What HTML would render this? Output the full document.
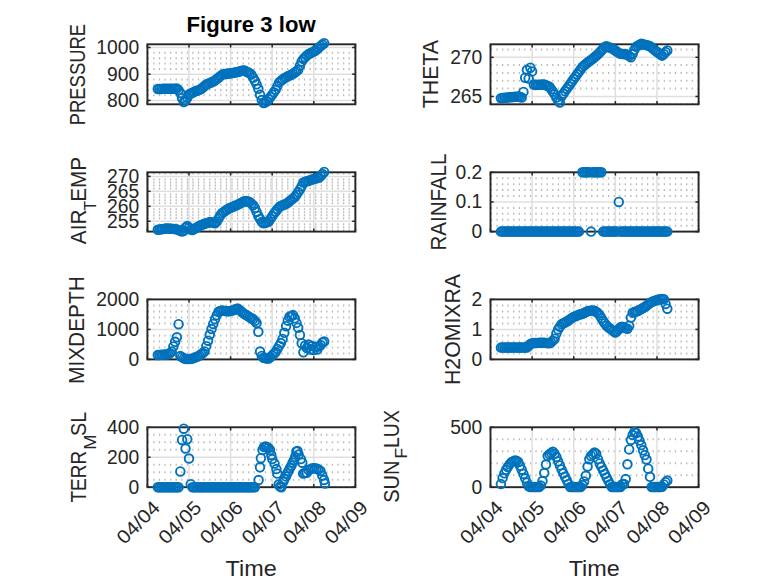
<!DOCTYPE html>
<html><head><meta charset="utf-8"><style>
html,body{margin:0;padding:0;background:#fff;overflow:hidden}
svg{display:block;font-family:"Liberation Sans",sans-serif}
</style></head><body>
<svg width="778" height="583" viewBox="0 0 778 583">
<rect width="778" height="583" fill="#fff"/>
<path d="M148.3 94.2v2M153.9 94.2v2M159.5 94.2v2M165.0 94.2v2M170.6 94.2v2M176.2 94.2v2M181.8 94.2v2M187.4 94.2v2M192.9 94.2v2M198.5 94.2v2M204.1 94.2v2M209.7 94.2v2M215.3 94.2v2M220.8 94.2v2M226.4 94.2v2M232.0 94.2v2M237.6 94.2v2M243.2 94.2v2M248.7 94.2v2M254.3 94.2v2M259.9 94.2v2M265.5 94.2v2M271.1 94.2v2M276.6 94.2v2M282.2 94.2v2M287.8 94.2v2M293.4 94.2v2M299.0 94.2v2M304.5 94.2v2M310.1 94.2v2M315.7 94.2v2M321.3 94.2v2M326.9 94.2v2M332.4 94.2v2M338.0 94.2v2M343.6 94.2v2M349.2 94.2v2M354.8 94.2v2M148.3 88.9v2M153.9 88.9v2M159.5 88.9v2M165.0 88.9v2M170.6 88.9v2M176.2 88.9v2M181.8 88.9v2M187.4 88.9v2M192.9 88.9v2M198.5 88.9v2M204.1 88.9v2M209.7 88.9v2M215.3 88.9v2M220.8 88.9v2M226.4 88.9v2M232.0 88.9v2M237.6 88.9v2M243.2 88.9v2M248.7 88.9v2M254.3 88.9v2M259.9 88.9v2M265.5 88.9v2M271.1 88.9v2M276.6 88.9v2M282.2 88.9v2M287.8 88.9v2M293.4 88.9v2M299.0 88.9v2M304.5 88.9v2M310.1 88.9v2M315.7 88.9v2M321.3 88.9v2M326.9 88.9v2M332.4 88.9v2M338.0 88.9v2M343.6 88.9v2M349.2 88.9v2M354.8 88.9v2M148.3 83.7v2M153.9 83.7v2M159.5 83.7v2M165.0 83.7v2M170.6 83.7v2M176.2 83.7v2M181.8 83.7v2M187.4 83.7v2M192.9 83.7v2M198.5 83.7v2M204.1 83.7v2M209.7 83.7v2M215.3 83.7v2M220.8 83.7v2M226.4 83.7v2M232.0 83.7v2M237.6 83.7v2M243.2 83.7v2M248.7 83.7v2M254.3 83.7v2M259.9 83.7v2M265.5 83.7v2M271.1 83.7v2M276.6 83.7v2M282.2 83.7v2M287.8 83.7v2M293.4 83.7v2M299.0 83.7v2M304.5 83.7v2M310.1 83.7v2M315.7 83.7v2M321.3 83.7v2M326.9 83.7v2M332.4 83.7v2M338.0 83.7v2M343.6 83.7v2M349.2 83.7v2M354.8 83.7v2M148.3 78.4v2M153.9 78.4v2M159.5 78.4v2M165.0 78.4v2M170.6 78.4v2M176.2 78.4v2M181.8 78.4v2M187.4 78.4v2M192.9 78.4v2M198.5 78.4v2M204.1 78.4v2M209.7 78.4v2M215.3 78.4v2M220.8 78.4v2M226.4 78.4v2M232.0 78.4v2M237.6 78.4v2M243.2 78.4v2M248.7 78.4v2M254.3 78.4v2M259.9 78.4v2M265.5 78.4v2M271.1 78.4v2M276.6 78.4v2M282.2 78.4v2M287.8 78.4v2M293.4 78.4v2M299.0 78.4v2M304.5 78.4v2M310.1 78.4v2M315.7 78.4v2M321.3 78.4v2M326.9 78.4v2M332.4 78.4v2M338.0 78.4v2M343.6 78.4v2M349.2 78.4v2M354.8 78.4v2M148.3 67.9v2M153.9 67.9v2M159.5 67.9v2M165.0 67.9v2M170.6 67.9v2M176.2 67.9v2M181.8 67.9v2M187.4 67.9v2M192.9 67.9v2M198.5 67.9v2M204.1 67.9v2M209.7 67.9v2M215.3 67.9v2M220.8 67.9v2M226.4 67.9v2M232.0 67.9v2M237.6 67.9v2M243.2 67.9v2M248.7 67.9v2M254.3 67.9v2M259.9 67.9v2M265.5 67.9v2M271.1 67.9v2M276.6 67.9v2M282.2 67.9v2M287.8 67.9v2M293.4 67.9v2M299.0 67.9v2M304.5 67.9v2M310.1 67.9v2M315.7 67.9v2M321.3 67.9v2M326.9 67.9v2M332.4 67.9v2M338.0 67.9v2M343.6 67.9v2M349.2 67.9v2M354.8 67.9v2M148.3 62.5v2M153.9 62.5v2M159.5 62.5v2M165.0 62.5v2M170.6 62.5v2M176.2 62.5v2M181.8 62.5v2M187.4 62.5v2M192.9 62.5v2M198.5 62.5v2M204.1 62.5v2M209.7 62.5v2M215.3 62.5v2M220.8 62.5v2M226.4 62.5v2M232.0 62.5v2M237.6 62.5v2M243.2 62.5v2M248.7 62.5v2M254.3 62.5v2M259.9 62.5v2M265.5 62.5v2M271.1 62.5v2M276.6 62.5v2M282.2 62.5v2M287.8 62.5v2M293.4 62.5v2M299.0 62.5v2M304.5 62.5v2M310.1 62.5v2M315.7 62.5v2M321.3 62.5v2M326.9 62.5v2M332.4 62.5v2M338.0 62.5v2M343.6 62.5v2M349.2 62.5v2M354.8 62.5v2M148.3 57.2v2M153.9 57.2v2M159.5 57.2v2M165.0 57.2v2M170.6 57.2v2M176.2 57.2v2M181.8 57.2v2M187.4 57.2v2M192.9 57.2v2M198.5 57.2v2M204.1 57.2v2M209.7 57.2v2M215.3 57.2v2M220.8 57.2v2M226.4 57.2v2M232.0 57.2v2M237.6 57.2v2M243.2 57.2v2M248.7 57.2v2M254.3 57.2v2M259.9 57.2v2M265.5 57.2v2M271.1 57.2v2M276.6 57.2v2M282.2 57.2v2M287.8 57.2v2M293.4 57.2v2M299.0 57.2v2M304.5 57.2v2M310.1 57.2v2M315.7 57.2v2M321.3 57.2v2M326.9 57.2v2M332.4 57.2v2M338.0 57.2v2M343.6 57.2v2M349.2 57.2v2M354.8 57.2v2M148.3 51.8v2M153.9 51.8v2M159.5 51.8v2M165.0 51.8v2M170.6 51.8v2M176.2 51.8v2M181.8 51.8v2M187.4 51.8v2M192.9 51.8v2M198.5 51.8v2M204.1 51.8v2M209.7 51.8v2M215.3 51.8v2M220.8 51.8v2M226.4 51.8v2M232.0 51.8v2M237.6 51.8v2M243.2 51.8v2M248.7 51.8v2M254.3 51.8v2M259.9 51.8v2M265.5 51.8v2M271.1 51.8v2M276.6 51.8v2M282.2 51.8v2M287.8 51.8v2M293.4 51.8v2M299.0 51.8v2M304.5 51.8v2M310.1 51.8v2M315.7 51.8v2M321.3 51.8v2M326.9 51.8v2M332.4 51.8v2M338.0 51.8v2M343.6 51.8v2M349.2 51.8v2M354.8 51.8v2" stroke="#bababa" stroke-width="1.3" fill="none"/>
<line x1="147.40" y1="100.40" x2="355.40" y2="100.40" stroke="#dfdfdf" stroke-width="1.5"/>
<line x1="147.40" y1="74.20" x2="355.40" y2="74.20" stroke="#dfdfdf" stroke-width="1.5"/>
<line x1="147.40" y1="47.50" x2="355.40" y2="47.50" stroke="#dfdfdf" stroke-width="1.5"/>
<line x1="189.00" y1="44.30" x2="189.00" y2="104.30" stroke="#dfdfdf" stroke-width="1.5"/>
<line x1="230.60" y1="44.30" x2="230.60" y2="104.30" stroke="#dfdfdf" stroke-width="1.5"/>
<line x1="272.20" y1="44.30" x2="272.20" y2="104.30" stroke="#dfdfdf" stroke-width="1.5"/>
<line x1="313.80" y1="44.30" x2="313.80" y2="104.30" stroke="#dfdfdf" stroke-width="1.5"/>
<line x1="147.40" y1="100.40" x2="150.60" y2="100.40" stroke="#262626" stroke-width="1.5"/>
<line x1="355.40" y1="100.40" x2="352.20" y2="100.40" stroke="#262626" stroke-width="1.5"/>
<line x1="147.40" y1="74.20" x2="150.60" y2="74.20" stroke="#262626" stroke-width="1.5"/>
<line x1="355.40" y1="74.20" x2="352.20" y2="74.20" stroke="#262626" stroke-width="1.5"/>
<line x1="147.40" y1="47.50" x2="150.60" y2="47.50" stroke="#262626" stroke-width="1.5"/>
<line x1="355.40" y1="47.50" x2="352.20" y2="47.50" stroke="#262626" stroke-width="1.5"/>
<line x1="147.40" y1="104.30" x2="147.40" y2="101.10" stroke="#262626" stroke-width="1.5"/>
<line x1="147.40" y1="44.30" x2="147.40" y2="47.50" stroke="#262626" stroke-width="1.5"/>
<line x1="189.00" y1="104.30" x2="189.00" y2="101.10" stroke="#262626" stroke-width="1.5"/>
<line x1="189.00" y1="44.30" x2="189.00" y2="47.50" stroke="#262626" stroke-width="1.5"/>
<line x1="230.60" y1="104.30" x2="230.60" y2="101.10" stroke="#262626" stroke-width="1.5"/>
<line x1="230.60" y1="44.30" x2="230.60" y2="47.50" stroke="#262626" stroke-width="1.5"/>
<line x1="272.20" y1="104.30" x2="272.20" y2="101.10" stroke="#262626" stroke-width="1.5"/>
<line x1="272.20" y1="44.30" x2="272.20" y2="47.50" stroke="#262626" stroke-width="1.5"/>
<line x1="313.80" y1="104.30" x2="313.80" y2="101.10" stroke="#262626" stroke-width="1.5"/>
<line x1="313.80" y1="44.30" x2="313.80" y2="47.50" stroke="#262626" stroke-width="1.5"/>
<line x1="355.40" y1="104.30" x2="355.40" y2="101.10" stroke="#262626" stroke-width="1.5"/>
<line x1="355.40" y1="44.30" x2="355.40" y2="47.50" stroke="#262626" stroke-width="1.5"/>
<rect x="147.40" y="44.30" width="208.00" height="60.00" fill="none" stroke="#262626" stroke-width="1.9"/>
<text x="139.20" y="106.80" text-anchor="end" font-size="19.3" fill="#262626">800</text>
<text x="139.20" y="80.60" text-anchor="end" font-size="19.3" fill="#262626">900</text>
<text x="139.20" y="53.90" text-anchor="end" font-size="19.3" fill="#262626">1000</text>
<text transform="translate(85.20,125.20) rotate(-90)" font-size="21.3" fill="#262626" textLength="101.20" lengthAdjust="spacingAndGlyphs">PRESSURE</text>
<g fill="none" stroke="#0072BD" stroke-width="1.9"><circle cx="157.80" cy="89.00" r="4.3"/><circle cx="159.53" cy="88.96" r="4.3"/><circle cx="161.27" cy="88.92" r="4.3"/><circle cx="163.00" cy="88.87" r="4.3"/><circle cx="164.73" cy="88.83" r="4.3"/><circle cx="166.47" cy="88.79" r="4.3"/><circle cx="168.20" cy="88.76" r="4.3"/><circle cx="169.93" cy="88.73" r="4.3"/><circle cx="171.67" cy="88.70" r="4.3"/><circle cx="173.40" cy="88.67" r="4.3"/><circle cx="175.13" cy="88.64" r="4.3"/><circle cx="176.87" cy="88.61" r="4.3"/><circle cx="178.60" cy="90.10" r="4.3"/><circle cx="180.33" cy="93.00" r="4.3"/><circle cx="182.07" cy="98.15" r="4.3"/><circle cx="183.80" cy="101.98" r="4.3"/><circle cx="185.53" cy="100.49" r="4.3"/><circle cx="187.27" cy="97.68" r="4.3"/><circle cx="189.00" cy="94.50" r="4.3"/><circle cx="190.73" cy="93.62" r="4.3"/><circle cx="192.47" cy="92.74" r="4.3"/><circle cx="194.20" cy="91.86" r="4.3"/><circle cx="195.93" cy="90.99" r="4.3"/><circle cx="197.67" cy="90.45" r="4.3"/><circle cx="199.40" cy="89.91" r="4.3"/><circle cx="201.13" cy="89.11" r="4.3"/><circle cx="202.87" cy="87.53" r="4.3"/><circle cx="204.60" cy="85.95" r="4.3"/><circle cx="206.33" cy="84.44" r="4.3"/><circle cx="208.07" cy="83.69" r="4.3"/><circle cx="209.80" cy="82.94" r="4.3"/><circle cx="211.53" cy="82.20" r="4.3"/><circle cx="213.27" cy="81.45" r="4.3"/><circle cx="215.00" cy="80.44" r="4.3"/><circle cx="216.73" cy="79.05" r="4.3"/><circle cx="218.47" cy="77.67" r="4.3"/><circle cx="220.20" cy="76.28" r="4.3"/><circle cx="221.93" cy="74.89" r="4.3"/><circle cx="223.67" cy="74.11" r="4.3"/><circle cx="225.40" cy="73.94" r="4.3"/><circle cx="227.13" cy="73.77" r="4.3"/><circle cx="228.87" cy="73.60" r="4.3"/><circle cx="230.60" cy="73.36" r="4.3"/><circle cx="232.33" cy="73.01" r="4.3"/><circle cx="234.07" cy="72.67" r="4.3"/><circle cx="235.80" cy="72.32" r="4.3"/><circle cx="237.53" cy="71.94" r="4.3"/><circle cx="239.27" cy="71.50" r="4.3"/><circle cx="241.00" cy="71.06" r="4.3"/><circle cx="242.73" cy="70.62" r="4.3"/><circle cx="244.47" cy="70.54" r="4.3"/><circle cx="246.20" cy="71.43" r="4.3"/><circle cx="247.93" cy="72.32" r="4.3"/><circle cx="249.67" cy="73.21" r="4.3"/><circle cx="251.40" cy="74.61" r="4.3"/><circle cx="253.13" cy="77.68" r="4.3"/><circle cx="254.87" cy="80.75" r="4.3"/><circle cx="256.60" cy="84.35" r="4.3"/><circle cx="258.33" cy="88.81" r="4.3"/><circle cx="260.07" cy="94.80" r="4.3"/><circle cx="261.80" cy="100.00" r="4.3"/><circle cx="263.53" cy="102.96" r="4.3"/><circle cx="265.27" cy="102.40" r="4.3"/><circle cx="267.00" cy="101.36" r="4.3"/><circle cx="268.73" cy="99.14" r="4.3"/><circle cx="270.47" cy="96.93" r="4.3"/><circle cx="272.20" cy="94.60" r="4.3"/><circle cx="273.93" cy="92.26" r="4.3"/><circle cx="275.67" cy="89.86" r="4.3"/><circle cx="277.40" cy="86.11" r="4.3"/><circle cx="279.13" cy="82.36" r="4.3"/><circle cx="280.87" cy="80.84" r="4.3"/><circle cx="282.60" cy="79.57" r="4.3"/><circle cx="284.33" cy="78.29" r="4.3"/><circle cx="286.07" cy="77.19" r="4.3"/><circle cx="287.80" cy="76.37" r="4.3"/><circle cx="289.53" cy="75.55" r="4.3"/><circle cx="291.27" cy="74.73" r="4.3"/><circle cx="293.00" cy="73.76" r="4.3"/><circle cx="294.73" cy="72.48" r="4.3"/><circle cx="296.47" cy="71.20" r="4.3"/><circle cx="298.20" cy="69.76" r="4.3"/><circle cx="299.93" cy="65.63" r="4.3"/><circle cx="301.67" cy="61.51" r="4.3"/><circle cx="303.40" cy="58.92" r="4.3"/><circle cx="305.13" cy="57.22" r="4.3"/><circle cx="306.87" cy="55.51" r="4.3"/><circle cx="308.60" cy="54.10" r="4.3"/><circle cx="310.33" cy="53.25" r="4.3"/><circle cx="312.07" cy="52.40" r="4.3"/><circle cx="313.80" cy="51.54" r="4.3"/><circle cx="315.53" cy="50.51" r="4.3"/><circle cx="317.27" cy="48.97" r="4.3"/><circle cx="319.00" cy="47.42" r="4.3"/><circle cx="320.73" cy="45.87" r="4.3"/><circle cx="322.47" cy="44.53" r="4.3"/><circle cx="324.20" cy="43.18" r="4.3"/></g>
<path d="M491.4 103.3v2M497.0 103.3v2M502.6 103.3v2M508.1 103.3v2M513.7 103.3v2M519.3 103.3v2M524.9 103.3v2M530.5 103.3v2M536.0 103.3v2M541.6 103.3v2M547.2 103.3v2M552.8 103.3v2M558.4 103.3v2M563.9 103.3v2M569.5 103.3v2M575.1 103.3v2M580.7 103.3v2M586.3 103.3v2M591.8 103.3v2M597.4 103.3v2M603.0 103.3v2M608.6 103.3v2M614.2 103.3v2M619.7 103.3v2M625.3 103.3v2M630.9 103.3v2M636.5 103.3v2M642.1 103.3v2M647.6 103.3v2M653.2 103.3v2M658.8 103.3v2M664.4 103.3v2M670.0 103.3v2M675.5 103.3v2M681.1 103.3v2M686.7 103.3v2M692.3 103.3v2M697.9 103.3v2M491.4 87.6v2M497.0 87.6v2M502.6 87.6v2M508.1 87.6v2M513.7 87.6v2M519.3 87.6v2M524.9 87.6v2M530.5 87.6v2M536.0 87.6v2M541.6 87.6v2M547.2 87.6v2M552.8 87.6v2M558.4 87.6v2M563.9 87.6v2M569.5 87.6v2M575.1 87.6v2M580.7 87.6v2M586.3 87.6v2M591.8 87.6v2M597.4 87.6v2M603.0 87.6v2M608.6 87.6v2M614.2 87.6v2M619.7 87.6v2M625.3 87.6v2M630.9 87.6v2M636.5 87.6v2M642.1 87.6v2M647.6 87.6v2M653.2 87.6v2M658.8 87.6v2M664.4 87.6v2M670.0 87.6v2M675.5 87.6v2M681.1 87.6v2M686.7 87.6v2M692.3 87.6v2M697.9 87.6v2M491.4 79.8v2M497.0 79.8v2M502.6 79.8v2M508.1 79.8v2M513.7 79.8v2M519.3 79.8v2M524.9 79.8v2M530.5 79.8v2M536.0 79.8v2M541.6 79.8v2M547.2 79.8v2M552.8 79.8v2M558.4 79.8v2M563.9 79.8v2M569.5 79.8v2M575.1 79.8v2M580.7 79.8v2M586.3 79.8v2M591.8 79.8v2M597.4 79.8v2M603.0 79.8v2M608.6 79.8v2M614.2 79.8v2M619.7 79.8v2M625.3 79.8v2M630.9 79.8v2M636.5 79.8v2M642.1 79.8v2M647.6 79.8v2M653.2 79.8v2M658.8 79.8v2M664.4 79.8v2M670.0 79.8v2M675.5 79.8v2M681.1 79.8v2M686.7 79.8v2M692.3 79.8v2M697.9 79.8v2M491.4 72.0v2M497.0 72.0v2M502.6 72.0v2M508.1 72.0v2M513.7 72.0v2M519.3 72.0v2M524.9 72.0v2M530.5 72.0v2M536.0 72.0v2M541.6 72.0v2M547.2 72.0v2M552.8 72.0v2M558.4 72.0v2M563.9 72.0v2M569.5 72.0v2M575.1 72.0v2M580.7 72.0v2M586.3 72.0v2M591.8 72.0v2M597.4 72.0v2M603.0 72.0v2M608.6 72.0v2M614.2 72.0v2M619.7 72.0v2M625.3 72.0v2M630.9 72.0v2M636.5 72.0v2M642.1 72.0v2M647.6 72.0v2M653.2 72.0v2M658.8 72.0v2M664.4 72.0v2M670.0 72.0v2M675.5 72.0v2M681.1 72.0v2M686.7 72.0v2M692.3 72.0v2M697.9 72.0v2M491.4 64.1v2M497.0 64.1v2M502.6 64.1v2M508.1 64.1v2M513.7 64.1v2M519.3 64.1v2M524.9 64.1v2M530.5 64.1v2M536.0 64.1v2M541.6 64.1v2M547.2 64.1v2M552.8 64.1v2M558.4 64.1v2M563.9 64.1v2M569.5 64.1v2M575.1 64.1v2M580.7 64.1v2M586.3 64.1v2M591.8 64.1v2M597.4 64.1v2M603.0 64.1v2M608.6 64.1v2M614.2 64.1v2M619.7 64.1v2M625.3 64.1v2M630.9 64.1v2M636.5 64.1v2M642.1 64.1v2M647.6 64.1v2M653.2 64.1v2M658.8 64.1v2M664.4 64.1v2M670.0 64.1v2M675.5 64.1v2M681.1 64.1v2M686.7 64.1v2M692.3 64.1v2M697.9 64.1v2M491.4 48.5v2M497.0 48.5v2M502.6 48.5v2M508.1 48.5v2M513.7 48.5v2M519.3 48.5v2M524.9 48.5v2M530.5 48.5v2M536.0 48.5v2M541.6 48.5v2M547.2 48.5v2M552.8 48.5v2M558.4 48.5v2M563.9 48.5v2M569.5 48.5v2M575.1 48.5v2M580.7 48.5v2M586.3 48.5v2M591.8 48.5v2M597.4 48.5v2M603.0 48.5v2M608.6 48.5v2M614.2 48.5v2M619.7 48.5v2M625.3 48.5v2M630.9 48.5v2M636.5 48.5v2M642.1 48.5v2M647.6 48.5v2M653.2 48.5v2M658.8 48.5v2M664.4 48.5v2M670.0 48.5v2M675.5 48.5v2M681.1 48.5v2M686.7 48.5v2M692.3 48.5v2M697.9 48.5v2" stroke="#bababa" stroke-width="1.3" fill="none"/>
<line x1="490.50" y1="96.47" x2="698.60" y2="96.47" stroke="#dfdfdf" stroke-width="1.5"/>
<line x1="490.50" y1="57.30" x2="698.60" y2="57.30" stroke="#dfdfdf" stroke-width="1.5"/>
<line x1="532.12" y1="44.30" x2="532.12" y2="104.30" stroke="#dfdfdf" stroke-width="1.5"/>
<line x1="573.74" y1="44.30" x2="573.74" y2="104.30" stroke="#dfdfdf" stroke-width="1.5"/>
<line x1="615.36" y1="44.30" x2="615.36" y2="104.30" stroke="#dfdfdf" stroke-width="1.5"/>
<line x1="656.98" y1="44.30" x2="656.98" y2="104.30" stroke="#dfdfdf" stroke-width="1.5"/>
<line x1="490.50" y1="96.47" x2="493.70" y2="96.47" stroke="#262626" stroke-width="1.5"/>
<line x1="698.60" y1="96.47" x2="695.40" y2="96.47" stroke="#262626" stroke-width="1.5"/>
<line x1="490.50" y1="57.30" x2="493.70" y2="57.30" stroke="#262626" stroke-width="1.5"/>
<line x1="698.60" y1="57.30" x2="695.40" y2="57.30" stroke="#262626" stroke-width="1.5"/>
<line x1="490.50" y1="104.30" x2="490.50" y2="101.10" stroke="#262626" stroke-width="1.5"/>
<line x1="490.50" y1="44.30" x2="490.50" y2="47.50" stroke="#262626" stroke-width="1.5"/>
<line x1="532.12" y1="104.30" x2="532.12" y2="101.10" stroke="#262626" stroke-width="1.5"/>
<line x1="532.12" y1="44.30" x2="532.12" y2="47.50" stroke="#262626" stroke-width="1.5"/>
<line x1="573.74" y1="104.30" x2="573.74" y2="101.10" stroke="#262626" stroke-width="1.5"/>
<line x1="573.74" y1="44.30" x2="573.74" y2="47.50" stroke="#262626" stroke-width="1.5"/>
<line x1="615.36" y1="104.30" x2="615.36" y2="101.10" stroke="#262626" stroke-width="1.5"/>
<line x1="615.36" y1="44.30" x2="615.36" y2="47.50" stroke="#262626" stroke-width="1.5"/>
<line x1="656.98" y1="104.30" x2="656.98" y2="101.10" stroke="#262626" stroke-width="1.5"/>
<line x1="656.98" y1="44.30" x2="656.98" y2="47.50" stroke="#262626" stroke-width="1.5"/>
<line x1="698.60" y1="104.30" x2="698.60" y2="101.10" stroke="#262626" stroke-width="1.5"/>
<line x1="698.60" y1="44.30" x2="698.60" y2="47.50" stroke="#262626" stroke-width="1.5"/>
<rect x="490.50" y="44.30" width="208.10" height="60.00" fill="none" stroke="#262626" stroke-width="1.9"/>
<text x="482.30" y="102.87" text-anchor="end" font-size="19.3" fill="#262626">265</text>
<text x="482.30" y="63.70" text-anchor="end" font-size="19.3" fill="#262626">270</text>
<text transform="translate(438.00,108.20) rotate(-90)" font-size="21.3" fill="#262626" textLength="68.20" lengthAdjust="spacingAndGlyphs">THETA</text>
<g fill="none" stroke="#0072BD" stroke-width="1.9"><circle cx="500.90" cy="98.20" r="4.3"/><circle cx="502.63" cy="98.02" r="4.3"/><circle cx="504.37" cy="97.83" r="4.3"/><circle cx="506.10" cy="97.64" r="4.3"/><circle cx="507.83" cy="97.45" r="4.3"/><circle cx="509.57" cy="97.27" r="4.3"/><circle cx="511.30" cy="97.13" r="4.3"/><circle cx="513.03" cy="96.99" r="4.3"/><circle cx="514.77" cy="96.85" r="4.3"/><circle cx="516.50" cy="96.71" r="4.3"/><circle cx="518.23" cy="96.57" r="4.3"/><circle cx="519.97" cy="96.80" r="4.3"/><circle cx="521.70" cy="97.50" r="4.3"/><circle cx="523.43" cy="91.90" r="4.3"/><circle cx="525.17" cy="77.70" r="4.3"/><circle cx="526.90" cy="70.00" r="4.3"/><circle cx="528.63" cy="78.60" r="4.3"/><circle cx="530.37" cy="67.70" r="4.3"/><circle cx="532.10" cy="71.40" r="4.3"/><circle cx="533.83" cy="84.50" r="4.3"/><circle cx="535.57" cy="84.93" r="4.3"/><circle cx="537.30" cy="84.84" r="4.3"/><circle cx="539.03" cy="84.75" r="4.3"/><circle cx="540.77" cy="84.67" r="4.3"/><circle cx="542.50" cy="84.58" r="4.3"/><circle cx="544.23" cy="84.56" r="4.3"/><circle cx="545.97" cy="85.30" r="4.3"/><circle cx="547.70" cy="86.03" r="4.3"/><circle cx="549.43" cy="86.77" r="4.3"/><circle cx="551.17" cy="89.17" r="4.3"/><circle cx="552.90" cy="91.64" r="4.3"/><circle cx="554.63" cy="94.33" r="4.3"/><circle cx="556.37" cy="97.42" r="4.3"/><circle cx="558.10" cy="100.51" r="4.3"/><circle cx="559.83" cy="102.44" r="4.3"/><circle cx="561.57" cy="96.20" r="4.3"/><circle cx="563.30" cy="93.75" r="4.3"/><circle cx="565.03" cy="91.29" r="4.3"/><circle cx="566.77" cy="88.84" r="4.3"/><circle cx="568.50" cy="86.39" r="4.3"/><circle cx="570.23" cy="83.93" r="4.3"/><circle cx="571.97" cy="81.49" r="4.3"/><circle cx="573.70" cy="79.08" r="4.3"/><circle cx="575.43" cy="76.68" r="4.3"/><circle cx="577.17" cy="74.27" r="4.3"/><circle cx="578.90" cy="71.86" r="4.3"/><circle cx="580.63" cy="69.45" r="4.3"/><circle cx="582.37" cy="67.05" r="4.3"/><circle cx="584.10" cy="65.50" r="4.3"/><circle cx="585.83" cy="63.97" r="4.3"/><circle cx="587.57" cy="62.45" r="4.3"/><circle cx="589.30" cy="61.24" r="4.3"/><circle cx="591.03" cy="60.02" r="4.3"/><circle cx="592.77" cy="58.80" r="4.3"/><circle cx="594.50" cy="57.32" r="4.3"/><circle cx="596.23" cy="55.74" r="4.3"/><circle cx="597.97" cy="54.17" r="4.3"/><circle cx="599.70" cy="52.43" r="4.3"/><circle cx="601.43" cy="50.57" r="4.3"/><circle cx="603.17" cy="48.71" r="4.3"/><circle cx="604.90" cy="46.86" r="4.3"/><circle cx="606.63" cy="46.35" r="4.3"/><circle cx="608.37" cy="47.01" r="4.3"/><circle cx="610.10" cy="47.67" r="4.3"/><circle cx="611.83" cy="48.33" r="4.3"/><circle cx="613.57" cy="49.24" r="4.3"/><circle cx="615.30" cy="50.46" r="4.3"/><circle cx="617.03" cy="51.68" r="4.3"/><circle cx="618.77" cy="52.90" r="4.3"/><circle cx="620.50" cy="53.76" r="4.3"/><circle cx="622.23" cy="53.93" r="4.3"/><circle cx="623.97" cy="54.10" r="4.3"/><circle cx="625.70" cy="54.27" r="4.3"/><circle cx="627.43" cy="54.72" r="4.3"/><circle cx="629.17" cy="56.00" r="4.3"/><circle cx="630.90" cy="57.28" r="4.3"/><circle cx="632.63" cy="54.02" r="4.3"/><circle cx="634.37" cy="49.81" r="4.3"/><circle cx="636.10" cy="46.87" r="4.3"/><circle cx="637.83" cy="45.81" r="4.3"/><circle cx="639.57" cy="44.74" r="4.3"/><circle cx="641.30" cy="43.85" r="4.3"/><circle cx="643.03" cy="44.28" r="4.3"/><circle cx="644.77" cy="44.71" r="4.3"/><circle cx="646.50" cy="45.13" r="4.3"/><circle cx="648.23" cy="45.56" r="4.3"/><circle cx="649.97" cy="46.20" r="4.3"/><circle cx="651.70" cy="47.61" r="4.3"/><circle cx="653.43" cy="49.02" r="4.3"/><circle cx="655.17" cy="50.43" r="4.3"/><circle cx="656.90" cy="51.82" r="4.3"/><circle cx="658.63" cy="53.10" r="4.3"/><circle cx="660.37" cy="54.38" r="4.3"/><circle cx="662.10" cy="55.65" r="4.3"/><circle cx="663.83" cy="54.01" r="4.3"/><circle cx="665.57" cy="51.99" r="4.3"/><circle cx="667.30" cy="50.42" r="4.3"/></g>
<path d="M148.3 229.3v2M153.9 229.3v2M159.5 229.3v2M165.0 229.3v2M170.6 229.3v2M176.2 229.3v2M181.8 229.3v2M187.4 229.3v2M192.9 229.3v2M198.5 229.3v2M204.1 229.3v2M209.7 229.3v2M215.3 229.3v2M220.8 229.3v2M226.4 229.3v2M232.0 229.3v2M237.6 229.3v2M243.2 229.3v2M248.7 229.3v2M254.3 229.3v2M259.9 229.3v2M265.5 229.3v2M271.1 229.3v2M276.6 229.3v2M282.2 229.3v2M287.8 229.3v2M293.4 229.3v2M299.0 229.3v2M304.5 229.3v2M310.1 229.3v2M315.7 229.3v2M321.3 229.3v2M326.9 229.3v2M332.4 229.3v2M338.0 229.3v2M343.6 229.3v2M349.2 229.3v2M354.8 229.3v2M148.3 226.3v2M153.9 226.3v2M159.5 226.3v2M165.0 226.3v2M170.6 226.3v2M176.2 226.3v2M181.8 226.3v2M187.4 226.3v2M192.9 226.3v2M198.5 226.3v2M204.1 226.3v2M209.7 226.3v2M215.3 226.3v2M220.8 226.3v2M226.4 226.3v2M232.0 226.3v2M237.6 226.3v2M243.2 226.3v2M248.7 226.3v2M254.3 226.3v2M259.9 226.3v2M265.5 226.3v2M271.1 226.3v2M276.6 226.3v2M282.2 226.3v2M287.8 226.3v2M293.4 226.3v2M299.0 226.3v2M304.5 226.3v2M310.1 226.3v2M315.7 226.3v2M321.3 226.3v2M326.9 226.3v2M332.4 226.3v2M338.0 226.3v2M343.6 226.3v2M349.2 226.3v2M354.8 226.3v2M148.3 223.3v2M153.9 223.3v2M159.5 223.3v2M165.0 223.3v2M170.6 223.3v2M176.2 223.3v2M181.8 223.3v2M187.4 223.3v2M192.9 223.3v2M198.5 223.3v2M204.1 223.3v2M209.7 223.3v2M215.3 223.3v2M220.8 223.3v2M226.4 223.3v2M232.0 223.3v2M237.6 223.3v2M243.2 223.3v2M248.7 223.3v2M254.3 223.3v2M259.9 223.3v2M265.5 223.3v2M271.1 223.3v2M276.6 223.3v2M282.2 223.3v2M287.8 223.3v2M293.4 223.3v2M299.0 223.3v2M304.5 223.3v2M310.1 223.3v2M315.7 223.3v2M321.3 223.3v2M326.9 223.3v2M332.4 223.3v2M338.0 223.3v2M343.6 223.3v2M349.2 223.3v2M354.8 223.3v2M148.3 217.3v2M153.9 217.3v2M159.5 217.3v2M165.0 217.3v2M170.6 217.3v2M176.2 217.3v2M181.8 217.3v2M187.4 217.3v2M192.9 217.3v2M198.5 217.3v2M204.1 217.3v2M209.7 217.3v2M215.3 217.3v2M220.8 217.3v2M226.4 217.3v2M232.0 217.3v2M237.6 217.3v2M243.2 217.3v2M248.7 217.3v2M254.3 217.3v2M259.9 217.3v2M265.5 217.3v2M271.1 217.3v2M276.6 217.3v2M282.2 217.3v2M287.8 217.3v2M293.4 217.3v2M299.0 217.3v2M304.5 217.3v2M310.1 217.3v2M315.7 217.3v2M321.3 217.3v2M326.9 217.3v2M332.4 217.3v2M338.0 217.3v2M343.6 217.3v2M349.2 217.3v2M354.8 217.3v2M148.3 214.3v2M153.9 214.3v2M159.5 214.3v2M165.0 214.3v2M170.6 214.3v2M176.2 214.3v2M181.8 214.3v2M187.4 214.3v2M192.9 214.3v2M198.5 214.3v2M204.1 214.3v2M209.7 214.3v2M215.3 214.3v2M220.8 214.3v2M226.4 214.3v2M232.0 214.3v2M237.6 214.3v2M243.2 214.3v2M248.7 214.3v2M254.3 214.3v2M259.9 214.3v2M265.5 214.3v2M271.1 214.3v2M276.6 214.3v2M282.2 214.3v2M287.8 214.3v2M293.4 214.3v2M299.0 214.3v2M304.5 214.3v2M310.1 214.3v2M315.7 214.3v2M321.3 214.3v2M326.9 214.3v2M332.4 214.3v2M338.0 214.3v2M343.6 214.3v2M349.2 214.3v2M354.8 214.3v2M148.3 211.3v2M153.9 211.3v2M159.5 211.3v2M165.0 211.3v2M170.6 211.3v2M176.2 211.3v2M181.8 211.3v2M187.4 211.3v2M192.9 211.3v2M198.5 211.3v2M204.1 211.3v2M209.7 211.3v2M215.3 211.3v2M220.8 211.3v2M226.4 211.3v2M232.0 211.3v2M237.6 211.3v2M243.2 211.3v2M248.7 211.3v2M254.3 211.3v2M259.9 211.3v2M265.5 211.3v2M271.1 211.3v2M276.6 211.3v2M282.2 211.3v2M287.8 211.3v2M293.4 211.3v2M299.0 211.3v2M304.5 211.3v2M310.1 211.3v2M315.7 211.3v2M321.3 211.3v2M326.9 211.3v2M332.4 211.3v2M338.0 211.3v2M343.6 211.3v2M349.2 211.3v2M354.8 211.3v2M148.3 208.3v2M153.9 208.3v2M159.5 208.3v2M165.0 208.3v2M170.6 208.3v2M176.2 208.3v2M181.8 208.3v2M187.4 208.3v2M192.9 208.3v2M198.5 208.3v2M204.1 208.3v2M209.7 208.3v2M215.3 208.3v2M220.8 208.3v2M226.4 208.3v2M232.0 208.3v2M237.6 208.3v2M243.2 208.3v2M248.7 208.3v2M254.3 208.3v2M259.9 208.3v2M265.5 208.3v2M271.1 208.3v2M276.6 208.3v2M282.2 208.3v2M287.8 208.3v2M293.4 208.3v2M299.0 208.3v2M304.5 208.3v2M310.1 208.3v2M315.7 208.3v2M321.3 208.3v2M326.9 208.3v2M332.4 208.3v2M338.0 208.3v2M343.6 208.3v2M349.2 208.3v2M354.8 208.3v2M148.3 202.3v2M153.9 202.3v2M159.5 202.3v2M165.0 202.3v2M170.6 202.3v2M176.2 202.3v2M181.8 202.3v2M187.4 202.3v2M192.9 202.3v2M198.5 202.3v2M204.1 202.3v2M209.7 202.3v2M215.3 202.3v2M220.8 202.3v2M226.4 202.3v2M232.0 202.3v2M237.6 202.3v2M243.2 202.3v2M248.7 202.3v2M254.3 202.3v2M259.9 202.3v2M265.5 202.3v2M271.1 202.3v2M276.6 202.3v2M282.2 202.3v2M287.8 202.3v2M293.4 202.3v2M299.0 202.3v2M304.5 202.3v2M310.1 202.3v2M315.7 202.3v2M321.3 202.3v2M326.9 202.3v2M332.4 202.3v2M338.0 202.3v2M343.6 202.3v2M349.2 202.3v2M354.8 202.3v2M148.3 199.3v2M153.9 199.3v2M159.5 199.3v2M165.0 199.3v2M170.6 199.3v2M176.2 199.3v2M181.8 199.3v2M187.4 199.3v2M192.9 199.3v2M198.5 199.3v2M204.1 199.3v2M209.7 199.3v2M215.3 199.3v2M220.8 199.3v2M226.4 199.3v2M232.0 199.3v2M237.6 199.3v2M243.2 199.3v2M248.7 199.3v2M254.3 199.3v2M259.9 199.3v2M265.5 199.3v2M271.1 199.3v2M276.6 199.3v2M282.2 199.3v2M287.8 199.3v2M293.4 199.3v2M299.0 199.3v2M304.5 199.3v2M310.1 199.3v2M315.7 199.3v2M321.3 199.3v2M326.9 199.3v2M332.4 199.3v2M338.0 199.3v2M343.6 199.3v2M349.2 199.3v2M354.8 199.3v2M148.3 196.3v2M153.9 196.3v2M159.5 196.3v2M165.0 196.3v2M170.6 196.3v2M176.2 196.3v2M181.8 196.3v2M187.4 196.3v2M192.9 196.3v2M198.5 196.3v2M204.1 196.3v2M209.7 196.3v2M215.3 196.3v2M220.8 196.3v2M226.4 196.3v2M232.0 196.3v2M237.6 196.3v2M243.2 196.3v2M248.7 196.3v2M254.3 196.3v2M259.9 196.3v2M265.5 196.3v2M271.1 196.3v2M276.6 196.3v2M282.2 196.3v2M287.8 196.3v2M293.4 196.3v2M299.0 196.3v2M304.5 196.3v2M310.1 196.3v2M315.7 196.3v2M321.3 196.3v2M326.9 196.3v2M332.4 196.3v2M338.0 196.3v2M343.6 196.3v2M349.2 196.3v2M354.8 196.3v2M148.3 193.4v2M153.9 193.4v2M159.5 193.4v2M165.0 193.4v2M170.6 193.4v2M176.2 193.4v2M181.8 193.4v2M187.4 193.4v2M192.9 193.4v2M198.5 193.4v2M204.1 193.4v2M209.7 193.4v2M215.3 193.4v2M220.8 193.4v2M226.4 193.4v2M232.0 193.4v2M237.6 193.4v2M243.2 193.4v2M248.7 193.4v2M254.3 193.4v2M259.9 193.4v2M265.5 193.4v2M271.1 193.4v2M276.6 193.4v2M282.2 193.4v2M287.8 193.4v2M293.4 193.4v2M299.0 193.4v2M304.5 193.4v2M310.1 193.4v2M315.7 193.4v2M321.3 193.4v2M326.9 193.4v2M332.4 193.4v2M338.0 193.4v2M343.6 193.4v2M349.2 193.4v2M354.8 193.4v2M148.3 187.4v2M153.9 187.4v2M159.5 187.4v2M165.0 187.4v2M170.6 187.4v2M176.2 187.4v2M181.8 187.4v2M187.4 187.4v2M192.9 187.4v2M198.5 187.4v2M204.1 187.4v2M209.7 187.4v2M215.3 187.4v2M220.8 187.4v2M226.4 187.4v2M232.0 187.4v2M237.6 187.4v2M243.2 187.4v2M248.7 187.4v2M254.3 187.4v2M259.9 187.4v2M265.5 187.4v2M271.1 187.4v2M276.6 187.4v2M282.2 187.4v2M287.8 187.4v2M293.4 187.4v2M299.0 187.4v2M304.5 187.4v2M310.1 187.4v2M315.7 187.4v2M321.3 187.4v2M326.9 187.4v2M332.4 187.4v2M338.0 187.4v2M343.6 187.4v2M349.2 187.4v2M354.8 187.4v2M148.3 184.4v2M153.9 184.4v2M159.5 184.4v2M165.0 184.4v2M170.6 184.4v2M176.2 184.4v2M181.8 184.4v2M187.4 184.4v2M192.9 184.4v2M198.5 184.4v2M204.1 184.4v2M209.7 184.4v2M215.3 184.4v2M220.8 184.4v2M226.4 184.4v2M232.0 184.4v2M237.6 184.4v2M243.2 184.4v2M248.7 184.4v2M254.3 184.4v2M259.9 184.4v2M265.5 184.4v2M271.1 184.4v2M276.6 184.4v2M282.2 184.4v2M287.8 184.4v2M293.4 184.4v2M299.0 184.4v2M304.5 184.4v2M310.1 184.4v2M315.7 184.4v2M321.3 184.4v2M326.9 184.4v2M332.4 184.4v2M338.0 184.4v2M343.6 184.4v2M349.2 184.4v2M354.8 184.4v2M148.3 181.4v2M153.9 181.4v2M159.5 181.4v2M165.0 181.4v2M170.6 181.4v2M176.2 181.4v2M181.8 181.4v2M187.4 181.4v2M192.9 181.4v2M198.5 181.4v2M204.1 181.4v2M209.7 181.4v2M215.3 181.4v2M220.8 181.4v2M226.4 181.4v2M232.0 181.4v2M237.6 181.4v2M243.2 181.4v2M248.7 181.4v2M254.3 181.4v2M259.9 181.4v2M265.5 181.4v2M271.1 181.4v2M276.6 181.4v2M282.2 181.4v2M287.8 181.4v2M293.4 181.4v2M299.0 181.4v2M304.5 181.4v2M310.1 181.4v2M315.7 181.4v2M321.3 181.4v2M326.9 181.4v2M332.4 181.4v2M338.0 181.4v2M343.6 181.4v2M349.2 181.4v2M354.8 181.4v2M148.3 178.4v2M153.9 178.4v2M159.5 178.4v2M165.0 178.4v2M170.6 178.4v2M176.2 178.4v2M181.8 178.4v2M187.4 178.4v2M192.9 178.4v2M198.5 178.4v2M204.1 178.4v2M209.7 178.4v2M215.3 178.4v2M220.8 178.4v2M226.4 178.4v2M232.0 178.4v2M237.6 178.4v2M243.2 178.4v2M248.7 178.4v2M254.3 178.4v2M259.9 178.4v2M265.5 178.4v2M271.1 178.4v2M276.6 178.4v2M282.2 178.4v2M287.8 178.4v2M293.4 178.4v2M299.0 178.4v2M304.5 178.4v2M310.1 178.4v2M315.7 178.4v2M321.3 178.4v2M326.9 178.4v2M332.4 178.4v2M338.0 178.4v2M343.6 178.4v2M349.2 178.4v2M354.8 178.4v2M148.3 172.4v2M153.9 172.4v2M159.5 172.4v2M165.0 172.4v2M170.6 172.4v2M176.2 172.4v2M181.8 172.4v2M187.4 172.4v2M192.9 172.4v2M198.5 172.4v2M204.1 172.4v2M209.7 172.4v2M215.3 172.4v2M220.8 172.4v2M226.4 172.4v2M232.0 172.4v2M237.6 172.4v2M243.2 172.4v2M248.7 172.4v2M254.3 172.4v2M259.9 172.4v2M265.5 172.4v2M271.1 172.4v2M276.6 172.4v2M282.2 172.4v2M287.8 172.4v2M293.4 172.4v2M299.0 172.4v2M304.5 172.4v2M310.1 172.4v2M315.7 172.4v2M321.3 172.4v2M326.9 172.4v2M332.4 172.4v2M338.0 172.4v2M343.6 172.4v2M349.2 172.4v2M354.8 172.4v2" stroke="#bababa" stroke-width="1.3" fill="none"/>
<line x1="147.40" y1="221.28" x2="355.40" y2="221.28" stroke="#dfdfdf" stroke-width="1.5"/>
<line x1="147.40" y1="206.32" x2="355.40" y2="206.32" stroke="#dfdfdf" stroke-width="1.5"/>
<line x1="147.40" y1="191.36" x2="355.40" y2="191.36" stroke="#dfdfdf" stroke-width="1.5"/>
<line x1="147.40" y1="176.40" x2="355.40" y2="176.40" stroke="#dfdfdf" stroke-width="1.5"/>
<line x1="189.00" y1="172.30" x2="189.00" y2="231.60" stroke="#dfdfdf" stroke-width="1.5"/>
<line x1="230.60" y1="172.30" x2="230.60" y2="231.60" stroke="#dfdfdf" stroke-width="1.5"/>
<line x1="272.20" y1="172.30" x2="272.20" y2="231.60" stroke="#dfdfdf" stroke-width="1.5"/>
<line x1="313.80" y1="172.30" x2="313.80" y2="231.60" stroke="#dfdfdf" stroke-width="1.5"/>
<line x1="147.40" y1="221.28" x2="150.60" y2="221.28" stroke="#262626" stroke-width="1.5"/>
<line x1="355.40" y1="221.28" x2="352.20" y2="221.28" stroke="#262626" stroke-width="1.5"/>
<line x1="147.40" y1="206.32" x2="150.60" y2="206.32" stroke="#262626" stroke-width="1.5"/>
<line x1="355.40" y1="206.32" x2="352.20" y2="206.32" stroke="#262626" stroke-width="1.5"/>
<line x1="147.40" y1="191.36" x2="150.60" y2="191.36" stroke="#262626" stroke-width="1.5"/>
<line x1="355.40" y1="191.36" x2="352.20" y2="191.36" stroke="#262626" stroke-width="1.5"/>
<line x1="147.40" y1="176.40" x2="150.60" y2="176.40" stroke="#262626" stroke-width="1.5"/>
<line x1="355.40" y1="176.40" x2="352.20" y2="176.40" stroke="#262626" stroke-width="1.5"/>
<line x1="147.40" y1="231.60" x2="147.40" y2="228.40" stroke="#262626" stroke-width="1.5"/>
<line x1="147.40" y1="172.30" x2="147.40" y2="175.50" stroke="#262626" stroke-width="1.5"/>
<line x1="189.00" y1="231.60" x2="189.00" y2="228.40" stroke="#262626" stroke-width="1.5"/>
<line x1="189.00" y1="172.30" x2="189.00" y2="175.50" stroke="#262626" stroke-width="1.5"/>
<line x1="230.60" y1="231.60" x2="230.60" y2="228.40" stroke="#262626" stroke-width="1.5"/>
<line x1="230.60" y1="172.30" x2="230.60" y2="175.50" stroke="#262626" stroke-width="1.5"/>
<line x1="272.20" y1="231.60" x2="272.20" y2="228.40" stroke="#262626" stroke-width="1.5"/>
<line x1="272.20" y1="172.30" x2="272.20" y2="175.50" stroke="#262626" stroke-width="1.5"/>
<line x1="313.80" y1="231.60" x2="313.80" y2="228.40" stroke="#262626" stroke-width="1.5"/>
<line x1="313.80" y1="172.30" x2="313.80" y2="175.50" stroke="#262626" stroke-width="1.5"/>
<line x1="355.40" y1="231.60" x2="355.40" y2="228.40" stroke="#262626" stroke-width="1.5"/>
<line x1="355.40" y1="172.30" x2="355.40" y2="175.50" stroke="#262626" stroke-width="1.5"/>
<rect x="147.40" y="172.30" width="208.00" height="59.30" fill="none" stroke="#262626" stroke-width="1.9"/>
<text x="139.20" y="227.68" text-anchor="end" font-size="19.3" fill="#262626">255</text>
<text x="139.20" y="212.72" text-anchor="end" font-size="19.3" fill="#262626">260</text>
<text x="139.20" y="197.76" text-anchor="end" font-size="19.3" fill="#262626">265</text>
<text x="139.20" y="182.80" text-anchor="end" font-size="19.3" fill="#262626">270</text>
<text transform="translate(86.20,244.20) rotate(-90)" font-size="21.3" fill="#262626" textLength="34.60" lengthAdjust="spacingAndGlyphs">AIR</text>
<text transform="translate(96.00,210.60) rotate(-90)" font-size="16.5" fill="#262626" textLength="9.60" lengthAdjust="spacingAndGlyphs">T</text>
<text transform="translate(86.20,201.80) rotate(-90)" font-size="21.3" fill="#262626" textLength="45.00" lengthAdjust="spacingAndGlyphs">EMP</text>
<g fill="none" stroke="#0072BD" stroke-width="1.9"><circle cx="157.80" cy="229.80" r="4.3"/><circle cx="159.53" cy="229.51" r="4.3"/><circle cx="161.27" cy="229.22" r="4.3"/><circle cx="163.00" cy="228.93" r="4.3"/><circle cx="164.73" cy="228.64" r="4.3"/><circle cx="166.47" cy="228.42" r="4.3"/><circle cx="168.20" cy="228.54" r="4.3"/><circle cx="169.93" cy="228.66" r="4.3"/><circle cx="171.67" cy="228.79" r="4.3"/><circle cx="173.40" cy="228.91" r="4.3"/><circle cx="175.13" cy="229.03" r="4.3"/><circle cx="176.87" cy="229.40" r="4.3"/><circle cx="178.60" cy="230.09" r="4.3"/><circle cx="180.33" cy="230.77" r="4.3"/><circle cx="182.07" cy="231.45" r="4.3"/><circle cx="183.80" cy="230.80" r="4.3"/><circle cx="185.53" cy="227.63" r="4.3"/><circle cx="187.27" cy="226.07" r="4.3"/><circle cx="189.00" cy="227.80" r="4.3"/><circle cx="190.73" cy="229.53" r="4.3"/><circle cx="192.47" cy="230.06" r="4.3"/><circle cx="194.20" cy="229.06" r="4.3"/><circle cx="195.93" cy="228.06" r="4.3"/><circle cx="197.67" cy="227.06" r="4.3"/><circle cx="199.40" cy="226.07" r="4.3"/><circle cx="201.13" cy="225.07" r="4.3"/><circle cx="202.87" cy="224.38" r="4.3"/><circle cx="204.60" cy="223.81" r="4.3"/><circle cx="206.33" cy="223.24" r="4.3"/><circle cx="208.07" cy="222.67" r="4.3"/><circle cx="209.80" cy="222.10" r="4.3"/><circle cx="211.53" cy="222.36" r="4.3"/><circle cx="213.27" cy="222.79" r="4.3"/><circle cx="215.00" cy="223.22" r="4.3"/><circle cx="216.73" cy="221.61" r="4.3"/><circle cx="218.47" cy="218.59" r="4.3"/><circle cx="220.20" cy="215.58" r="4.3"/><circle cx="221.93" cy="213.13" r="4.3"/><circle cx="223.67" cy="211.94" r="4.3"/><circle cx="225.40" cy="210.74" r="4.3"/><circle cx="227.13" cy="209.54" r="4.3"/><circle cx="228.87" cy="208.45" r="4.3"/><circle cx="230.60" cy="207.73" r="4.3"/><circle cx="232.33" cy="207.01" r="4.3"/><circle cx="234.07" cy="206.29" r="4.3"/><circle cx="235.80" cy="205.55" r="4.3"/><circle cx="237.53" cy="204.69" r="4.3"/><circle cx="239.27" cy="203.84" r="4.3"/><circle cx="241.00" cy="202.98" r="4.3"/><circle cx="242.73" cy="202.12" r="4.3"/><circle cx="244.47" cy="201.26" r="4.3"/><circle cx="246.20" cy="201.04" r="4.3"/><circle cx="247.93" cy="201.57" r="4.3"/><circle cx="249.67" cy="202.10" r="4.3"/><circle cx="251.40" cy="203.60" r="4.3"/><circle cx="253.13" cy="205.33" r="4.3"/><circle cx="254.87" cy="207.93" r="4.3"/><circle cx="256.60" cy="211.93" r="4.3"/><circle cx="258.33" cy="215.92" r="4.3"/><circle cx="260.07" cy="218.95" r="4.3"/><circle cx="261.80" cy="221.88" r="4.3"/><circle cx="263.53" cy="223.20" r="4.3"/><circle cx="265.27" cy="222.77" r="4.3"/><circle cx="267.00" cy="222.34" r="4.3"/><circle cx="268.73" cy="221.49" r="4.3"/><circle cx="270.47" cy="218.86" r="4.3"/><circle cx="272.20" cy="216.23" r="4.3"/><circle cx="273.93" cy="213.60" r="4.3"/><circle cx="275.67" cy="211.42" r="4.3"/><circle cx="277.40" cy="209.26" r="4.3"/><circle cx="279.13" cy="207.11" r="4.3"/><circle cx="280.87" cy="205.94" r="4.3"/><circle cx="282.60" cy="205.26" r="4.3"/><circle cx="284.33" cy="204.57" r="4.3"/><circle cx="286.07" cy="203.89" r="4.3"/><circle cx="287.80" cy="202.76" r="4.3"/><circle cx="289.53" cy="201.32" r="4.3"/><circle cx="291.27" cy="199.87" r="4.3"/><circle cx="293.00" cy="198.42" r="4.3"/><circle cx="294.73" cy="196.97" r="4.3"/><circle cx="296.47" cy="194.73" r="4.3"/><circle cx="298.20" cy="192.10" r="4.3"/><circle cx="299.93" cy="189.47" r="4.3"/><circle cx="301.67" cy="186.17" r="4.3"/><circle cx="303.40" cy="182.43" r="4.3"/><circle cx="305.13" cy="181.86" r="4.3"/><circle cx="306.87" cy="181.29" r="4.3"/><circle cx="308.60" cy="180.72" r="4.3"/><circle cx="310.33" cy="180.15" r="4.3"/><circle cx="312.07" cy="179.58" r="4.3"/><circle cx="313.80" cy="179.08" r="4.3"/><circle cx="315.53" cy="178.60" r="4.3"/><circle cx="317.27" cy="178.12" r="4.3"/><circle cx="319.00" cy="177.64" r="4.3"/><circle cx="320.73" cy="176.04" r="4.3"/><circle cx="322.47" cy="173.98" r="4.3"/><circle cx="324.20" cy="171.92" r="4.3"/></g>
<path d="M491.4 224.7v2M497.0 224.7v2M502.6 224.7v2M508.1 224.7v2M513.7 224.7v2M519.3 224.7v2M524.9 224.7v2M530.5 224.7v2M536.0 224.7v2M541.6 224.7v2M547.2 224.7v2M552.8 224.7v2M558.4 224.7v2M563.9 224.7v2M569.5 224.7v2M575.1 224.7v2M580.7 224.7v2M586.3 224.7v2M591.8 224.7v2M597.4 224.7v2M603.0 224.7v2M608.6 224.7v2M614.2 224.7v2M619.7 224.7v2M625.3 224.7v2M630.9 224.7v2M636.5 224.7v2M642.1 224.7v2M647.6 224.7v2M653.2 224.7v2M658.8 224.7v2M664.4 224.7v2M670.0 224.7v2M675.5 224.7v2M681.1 224.7v2M686.7 224.7v2M692.3 224.7v2M697.9 224.7v2M491.4 218.7v2M497.0 218.7v2M502.6 218.7v2M508.1 218.7v2M513.7 218.7v2M519.3 218.7v2M524.9 218.7v2M530.5 218.7v2M536.0 218.7v2M541.6 218.7v2M547.2 218.7v2M552.8 218.7v2M558.4 218.7v2M563.9 218.7v2M569.5 218.7v2M575.1 218.7v2M580.7 218.7v2M586.3 218.7v2M591.8 218.7v2M597.4 218.7v2M603.0 218.7v2M608.6 218.7v2M614.2 218.7v2M619.7 218.7v2M625.3 218.7v2M630.9 218.7v2M636.5 218.7v2M642.1 218.7v2M647.6 218.7v2M653.2 218.7v2M658.8 218.7v2M664.4 218.7v2M670.0 218.7v2M675.5 218.7v2M681.1 218.7v2M686.7 218.7v2M692.3 218.7v2M697.9 218.7v2M491.4 212.8v2M497.0 212.8v2M502.6 212.8v2M508.1 212.8v2M513.7 212.8v2M519.3 212.8v2M524.9 212.8v2M530.5 212.8v2M536.0 212.8v2M541.6 212.8v2M547.2 212.8v2M552.8 212.8v2M558.4 212.8v2M563.9 212.8v2M569.5 212.8v2M575.1 212.8v2M580.7 212.8v2M586.3 212.8v2M591.8 212.8v2M597.4 212.8v2M603.0 212.8v2M608.6 212.8v2M614.2 212.8v2M619.7 212.8v2M625.3 212.8v2M630.9 212.8v2M636.5 212.8v2M642.1 212.8v2M647.6 212.8v2M653.2 212.8v2M658.8 212.8v2M664.4 212.8v2M670.0 212.8v2M675.5 212.8v2M681.1 212.8v2M686.7 212.8v2M692.3 212.8v2M697.9 212.8v2M491.4 206.9v2M497.0 206.9v2M502.6 206.9v2M508.1 206.9v2M513.7 206.9v2M519.3 206.9v2M524.9 206.9v2M530.5 206.9v2M536.0 206.9v2M541.6 206.9v2M547.2 206.9v2M552.8 206.9v2M558.4 206.9v2M563.9 206.9v2M569.5 206.9v2M575.1 206.9v2M580.7 206.9v2M586.3 206.9v2M591.8 206.9v2M597.4 206.9v2M603.0 206.9v2M608.6 206.9v2M614.2 206.9v2M619.7 206.9v2M625.3 206.9v2M630.9 206.9v2M636.5 206.9v2M642.1 206.9v2M647.6 206.9v2M653.2 206.9v2M658.8 206.9v2M664.4 206.9v2M670.0 206.9v2M675.5 206.9v2M681.1 206.9v2M686.7 206.9v2M692.3 206.9v2M697.9 206.9v2M491.4 195.0v2M497.0 195.0v2M502.6 195.0v2M508.1 195.0v2M513.7 195.0v2M519.3 195.0v2M524.9 195.0v2M530.5 195.0v2M536.0 195.0v2M541.6 195.0v2M547.2 195.0v2M552.8 195.0v2M558.4 195.0v2M563.9 195.0v2M569.5 195.0v2M575.1 195.0v2M580.7 195.0v2M586.3 195.0v2M591.8 195.0v2M597.4 195.0v2M603.0 195.0v2M608.6 195.0v2M614.2 195.0v2M619.7 195.0v2M625.3 195.0v2M630.9 195.0v2M636.5 195.0v2M642.1 195.0v2M647.6 195.0v2M653.2 195.0v2M658.8 195.0v2M664.4 195.0v2M670.0 195.0v2M675.5 195.0v2M681.1 195.0v2M686.7 195.0v2M692.3 195.0v2M697.9 195.0v2M491.4 189.1v2M497.0 189.1v2M502.6 189.1v2M508.1 189.1v2M513.7 189.1v2M519.3 189.1v2M524.9 189.1v2M530.5 189.1v2M536.0 189.1v2M541.6 189.1v2M547.2 189.1v2M552.8 189.1v2M558.4 189.1v2M563.9 189.1v2M569.5 189.1v2M575.1 189.1v2M580.7 189.1v2M586.3 189.1v2M591.8 189.1v2M597.4 189.1v2M603.0 189.1v2M608.6 189.1v2M614.2 189.1v2M619.7 189.1v2M625.3 189.1v2M630.9 189.1v2M636.5 189.1v2M642.1 189.1v2M647.6 189.1v2M653.2 189.1v2M658.8 189.1v2M664.4 189.1v2M670.0 189.1v2M675.5 189.1v2M681.1 189.1v2M686.7 189.1v2M692.3 189.1v2M697.9 189.1v2M491.4 183.2v2M497.0 183.2v2M502.6 183.2v2M508.1 183.2v2M513.7 183.2v2M519.3 183.2v2M524.9 183.2v2M530.5 183.2v2M536.0 183.2v2M541.6 183.2v2M547.2 183.2v2M552.8 183.2v2M558.4 183.2v2M563.9 183.2v2M569.5 183.2v2M575.1 183.2v2M580.7 183.2v2M586.3 183.2v2M591.8 183.2v2M597.4 183.2v2M603.0 183.2v2M608.6 183.2v2M614.2 183.2v2M619.7 183.2v2M625.3 183.2v2M630.9 183.2v2M636.5 183.2v2M642.1 183.2v2M647.6 183.2v2M653.2 183.2v2M658.8 183.2v2M664.4 183.2v2M670.0 183.2v2M675.5 183.2v2M681.1 183.2v2M686.7 183.2v2M692.3 183.2v2M697.9 183.2v2M491.4 177.2v2M497.0 177.2v2M502.6 177.2v2M508.1 177.2v2M513.7 177.2v2M519.3 177.2v2M524.9 177.2v2M530.5 177.2v2M536.0 177.2v2M541.6 177.2v2M547.2 177.2v2M552.8 177.2v2M558.4 177.2v2M563.9 177.2v2M569.5 177.2v2M575.1 177.2v2M580.7 177.2v2M586.3 177.2v2M591.8 177.2v2M597.4 177.2v2M603.0 177.2v2M608.6 177.2v2M614.2 177.2v2M619.7 177.2v2M625.3 177.2v2M630.9 177.2v2M636.5 177.2v2M642.1 177.2v2M647.6 177.2v2M653.2 177.2v2M658.8 177.2v2M664.4 177.2v2M670.0 177.2v2M675.5 177.2v2M681.1 177.2v2M686.7 177.2v2M692.3 177.2v2M697.9 177.2v2" stroke="#bababa" stroke-width="1.3" fill="none"/>
<line x1="490.50" y1="231.60" x2="698.60" y2="231.60" stroke="#dfdfdf" stroke-width="1.5"/>
<line x1="490.50" y1="201.95" x2="698.60" y2="201.95" stroke="#dfdfdf" stroke-width="1.5"/>
<line x1="490.50" y1="172.30" x2="698.60" y2="172.30" stroke="#dfdfdf" stroke-width="1.5"/>
<line x1="532.12" y1="172.30" x2="532.12" y2="231.60" stroke="#dfdfdf" stroke-width="1.5"/>
<line x1="573.74" y1="172.30" x2="573.74" y2="231.60" stroke="#dfdfdf" stroke-width="1.5"/>
<line x1="615.36" y1="172.30" x2="615.36" y2="231.60" stroke="#dfdfdf" stroke-width="1.5"/>
<line x1="656.98" y1="172.30" x2="656.98" y2="231.60" stroke="#dfdfdf" stroke-width="1.5"/>
<line x1="490.50" y1="231.60" x2="493.70" y2="231.60" stroke="#262626" stroke-width="1.5"/>
<line x1="698.60" y1="231.60" x2="695.40" y2="231.60" stroke="#262626" stroke-width="1.5"/>
<line x1="490.50" y1="201.95" x2="493.70" y2="201.95" stroke="#262626" stroke-width="1.5"/>
<line x1="698.60" y1="201.95" x2="695.40" y2="201.95" stroke="#262626" stroke-width="1.5"/>
<line x1="490.50" y1="172.30" x2="493.70" y2="172.30" stroke="#262626" stroke-width="1.5"/>
<line x1="698.60" y1="172.30" x2="695.40" y2="172.30" stroke="#262626" stroke-width="1.5"/>
<line x1="490.50" y1="231.60" x2="490.50" y2="228.40" stroke="#262626" stroke-width="1.5"/>
<line x1="490.50" y1="172.30" x2="490.50" y2="175.50" stroke="#262626" stroke-width="1.5"/>
<line x1="532.12" y1="231.60" x2="532.12" y2="228.40" stroke="#262626" stroke-width="1.5"/>
<line x1="532.12" y1="172.30" x2="532.12" y2="175.50" stroke="#262626" stroke-width="1.5"/>
<line x1="573.74" y1="231.60" x2="573.74" y2="228.40" stroke="#262626" stroke-width="1.5"/>
<line x1="573.74" y1="172.30" x2="573.74" y2="175.50" stroke="#262626" stroke-width="1.5"/>
<line x1="615.36" y1="231.60" x2="615.36" y2="228.40" stroke="#262626" stroke-width="1.5"/>
<line x1="615.36" y1="172.30" x2="615.36" y2="175.50" stroke="#262626" stroke-width="1.5"/>
<line x1="656.98" y1="231.60" x2="656.98" y2="228.40" stroke="#262626" stroke-width="1.5"/>
<line x1="656.98" y1="172.30" x2="656.98" y2="175.50" stroke="#262626" stroke-width="1.5"/>
<line x1="698.60" y1="231.60" x2="698.60" y2="228.40" stroke="#262626" stroke-width="1.5"/>
<line x1="698.60" y1="172.30" x2="698.60" y2="175.50" stroke="#262626" stroke-width="1.5"/>
<rect x="490.50" y="172.30" width="208.10" height="59.30" fill="none" stroke="#262626" stroke-width="1.9"/>
<text x="482.30" y="238.00" text-anchor="end" font-size="19.3" fill="#262626">0</text>
<text x="482.30" y="208.35" text-anchor="end" font-size="19.3" fill="#262626">0.1</text>
<text x="482.30" y="178.70" text-anchor="end" font-size="19.3" fill="#262626">0.2</text>
<text transform="translate(445.60,250.60) rotate(-90)" font-size="21.3" fill="#262626" textLength="97.00" lengthAdjust="spacingAndGlyphs">RAINFALL</text>
<g fill="none" stroke="#0072BD" stroke-width="1.9"><circle cx="500.90" cy="231.60" r="4.3"/><circle cx="502.63" cy="231.60" r="4.3"/><circle cx="504.37" cy="231.60" r="4.3"/><circle cx="506.10" cy="231.60" r="4.3"/><circle cx="507.83" cy="231.60" r="4.3"/><circle cx="509.57" cy="231.60" r="4.3"/><circle cx="511.30" cy="231.60" r="4.3"/><circle cx="513.03" cy="231.60" r="4.3"/><circle cx="514.77" cy="231.60" r="4.3"/><circle cx="516.50" cy="231.60" r="4.3"/><circle cx="518.23" cy="231.60" r="4.3"/><circle cx="519.97" cy="231.60" r="4.3"/><circle cx="521.70" cy="231.60" r="4.3"/><circle cx="523.43" cy="231.60" r="4.3"/><circle cx="525.17" cy="231.60" r="4.3"/><circle cx="526.90" cy="231.60" r="4.3"/><circle cx="528.63" cy="231.60" r="4.3"/><circle cx="530.37" cy="231.60" r="4.3"/><circle cx="532.10" cy="231.60" r="4.3"/><circle cx="533.83" cy="231.60" r="4.3"/><circle cx="535.57" cy="231.60" r="4.3"/><circle cx="537.30" cy="231.60" r="4.3"/><circle cx="539.03" cy="231.60" r="4.3"/><circle cx="540.77" cy="231.60" r="4.3"/><circle cx="542.50" cy="231.60" r="4.3"/><circle cx="544.23" cy="231.60" r="4.3"/><circle cx="545.97" cy="231.60" r="4.3"/><circle cx="547.70" cy="231.60" r="4.3"/><circle cx="549.43" cy="231.60" r="4.3"/><circle cx="551.17" cy="231.60" r="4.3"/><circle cx="552.90" cy="231.60" r="4.3"/><circle cx="554.63" cy="231.60" r="4.3"/><circle cx="556.37" cy="231.60" r="4.3"/><circle cx="558.10" cy="231.60" r="4.3"/><circle cx="559.83" cy="231.60" r="4.3"/><circle cx="561.57" cy="231.60" r="4.3"/><circle cx="563.30" cy="231.60" r="4.3"/><circle cx="565.03" cy="231.60" r="4.3"/><circle cx="566.77" cy="231.60" r="4.3"/><circle cx="568.50" cy="231.60" r="4.3"/><circle cx="570.23" cy="231.60" r="4.3"/><circle cx="571.97" cy="231.60" r="4.3"/><circle cx="573.70" cy="231.60" r="4.3"/><circle cx="575.43" cy="231.60" r="4.3"/><circle cx="577.17" cy="231.60" r="4.3"/><circle cx="578.90" cy="231.60" r="4.3"/><circle cx="582.37" cy="172.30" r="4.3"/><circle cx="584.10" cy="172.30" r="4.3"/><circle cx="585.83" cy="172.30" r="4.3"/><circle cx="587.57" cy="172.30" r="4.3"/><circle cx="589.30" cy="172.30" r="4.3"/><circle cx="591.03" cy="231.60" r="4.3"/><circle cx="592.77" cy="172.30" r="4.3"/><circle cx="594.50" cy="172.30" r="4.3"/><circle cx="596.23" cy="172.30" r="4.3"/><circle cx="597.97" cy="172.30" r="4.3"/><circle cx="599.70" cy="172.30" r="4.3"/><circle cx="601.43" cy="172.30" r="4.3"/><circle cx="603.17" cy="231.60" r="4.3"/><circle cx="604.90" cy="231.60" r="4.3"/><circle cx="606.63" cy="231.60" r="4.3"/><circle cx="608.37" cy="231.60" r="4.3"/><circle cx="610.10" cy="231.60" r="4.3"/><circle cx="611.83" cy="231.60" r="4.3"/><circle cx="613.57" cy="231.60" r="4.3"/><circle cx="615.30" cy="231.60" r="4.3"/><circle cx="617.03" cy="231.60" r="4.3"/><circle cx="618.77" cy="201.95" r="4.3"/><circle cx="620.50" cy="231.60" r="4.3"/><circle cx="622.23" cy="231.60" r="4.3"/><circle cx="623.97" cy="231.60" r="4.3"/><circle cx="625.70" cy="231.60" r="4.3"/><circle cx="627.43" cy="231.60" r="4.3"/><circle cx="629.17" cy="231.60" r="4.3"/><circle cx="630.90" cy="231.60" r="4.3"/><circle cx="632.63" cy="231.60" r="4.3"/><circle cx="634.37" cy="231.60" r="4.3"/><circle cx="636.10" cy="231.60" r="4.3"/><circle cx="637.83" cy="231.60" r="4.3"/><circle cx="639.57" cy="231.60" r="4.3"/><circle cx="641.30" cy="231.60" r="4.3"/><circle cx="643.03" cy="231.60" r="4.3"/><circle cx="644.77" cy="231.60" r="4.3"/><circle cx="646.50" cy="231.60" r="4.3"/><circle cx="648.23" cy="231.60" r="4.3"/><circle cx="649.97" cy="231.60" r="4.3"/><circle cx="651.70" cy="231.60" r="4.3"/><circle cx="653.43" cy="231.60" r="4.3"/><circle cx="655.17" cy="231.60" r="4.3"/><circle cx="656.90" cy="231.60" r="4.3"/><circle cx="658.63" cy="231.60" r="4.3"/><circle cx="660.37" cy="231.60" r="4.3"/><circle cx="662.10" cy="231.60" r="4.3"/><circle cx="663.83" cy="231.60" r="4.3"/><circle cx="665.57" cy="231.60" r="4.3"/><circle cx="667.30" cy="231.60" r="4.3"/></g>
<path d="M148.3 352.4v2M153.9 352.4v2M159.5 352.4v2M165.0 352.4v2M170.6 352.4v2M176.2 352.4v2M181.8 352.4v2M187.4 352.4v2M192.9 352.4v2M198.5 352.4v2M204.1 352.4v2M209.7 352.4v2M215.3 352.4v2M220.8 352.4v2M226.4 352.4v2M232.0 352.4v2M237.6 352.4v2M243.2 352.4v2M248.7 352.4v2M254.3 352.4v2M259.9 352.4v2M265.5 352.4v2M271.1 352.4v2M276.6 352.4v2M282.2 352.4v2M287.8 352.4v2M293.4 352.4v2M299.0 352.4v2M304.5 352.4v2M310.1 352.4v2M315.7 352.4v2M321.3 352.4v2M326.9 352.4v2M332.4 352.4v2M338.0 352.4v2M343.6 352.4v2M349.2 352.4v2M354.8 352.4v2M148.3 346.4v2M153.9 346.4v2M159.5 346.4v2M165.0 346.4v2M170.6 346.4v2M176.2 346.4v2M181.8 346.4v2M187.4 346.4v2M192.9 346.4v2M198.5 346.4v2M204.1 346.4v2M209.7 346.4v2M215.3 346.4v2M220.8 346.4v2M226.4 346.4v2M232.0 346.4v2M237.6 346.4v2M243.2 346.4v2M248.7 346.4v2M254.3 346.4v2M259.9 346.4v2M265.5 346.4v2M271.1 346.4v2M276.6 346.4v2M282.2 346.4v2M287.8 346.4v2M293.4 346.4v2M299.0 346.4v2M304.5 346.4v2M310.1 346.4v2M315.7 346.4v2M321.3 346.4v2M326.9 346.4v2M332.4 346.4v2M338.0 346.4v2M343.6 346.4v2M349.2 346.4v2M354.8 346.4v2M148.3 340.4v2M153.9 340.4v2M159.5 340.4v2M165.0 340.4v2M170.6 340.4v2M176.2 340.4v2M181.8 340.4v2M187.4 340.4v2M192.9 340.4v2M198.5 340.4v2M204.1 340.4v2M209.7 340.4v2M215.3 340.4v2M220.8 340.4v2M226.4 340.4v2M232.0 340.4v2M237.6 340.4v2M243.2 340.4v2M248.7 340.4v2M254.3 340.4v2M259.9 340.4v2M265.5 340.4v2M271.1 340.4v2M276.6 340.4v2M282.2 340.4v2M287.8 340.4v2M293.4 340.4v2M299.0 340.4v2M304.5 340.4v2M310.1 340.4v2M315.7 340.4v2M321.3 340.4v2M326.9 340.4v2M332.4 340.4v2M338.0 340.4v2M343.6 340.4v2M349.2 340.4v2M354.8 340.4v2M148.3 334.4v2M153.9 334.4v2M159.5 334.4v2M165.0 334.4v2M170.6 334.4v2M176.2 334.4v2M181.8 334.4v2M187.4 334.4v2M192.9 334.4v2M198.5 334.4v2M204.1 334.4v2M209.7 334.4v2M215.3 334.4v2M220.8 334.4v2M226.4 334.4v2M232.0 334.4v2M237.6 334.4v2M243.2 334.4v2M248.7 334.4v2M254.3 334.4v2M259.9 334.4v2M265.5 334.4v2M271.1 334.4v2M276.6 334.4v2M282.2 334.4v2M287.8 334.4v2M293.4 334.4v2M299.0 334.4v2M304.5 334.4v2M310.1 334.4v2M315.7 334.4v2M321.3 334.4v2M326.9 334.4v2M332.4 334.4v2M338.0 334.4v2M343.6 334.4v2M349.2 334.4v2M354.8 334.4v2M148.3 322.4v2M153.9 322.4v2M159.5 322.4v2M165.0 322.4v2M170.6 322.4v2M176.2 322.4v2M181.8 322.4v2M187.4 322.4v2M192.9 322.4v2M198.5 322.4v2M204.1 322.4v2M209.7 322.4v2M215.3 322.4v2M220.8 322.4v2M226.4 322.4v2M232.0 322.4v2M237.6 322.4v2M243.2 322.4v2M248.7 322.4v2M254.3 322.4v2M259.9 322.4v2M265.5 322.4v2M271.1 322.4v2M276.6 322.4v2M282.2 322.4v2M287.8 322.4v2M293.4 322.4v2M299.0 322.4v2M304.5 322.4v2M310.1 322.4v2M315.7 322.4v2M321.3 322.4v2M326.9 322.4v2M332.4 322.4v2M338.0 322.4v2M343.6 322.4v2M349.2 322.4v2M354.8 322.4v2M148.3 316.4v2M153.9 316.4v2M159.5 316.4v2M165.0 316.4v2M170.6 316.4v2M176.2 316.4v2M181.8 316.4v2M187.4 316.4v2M192.9 316.4v2M198.5 316.4v2M204.1 316.4v2M209.7 316.4v2M215.3 316.4v2M220.8 316.4v2M226.4 316.4v2M232.0 316.4v2M237.6 316.4v2M243.2 316.4v2M248.7 316.4v2M254.3 316.4v2M259.9 316.4v2M265.5 316.4v2M271.1 316.4v2M276.6 316.4v2M282.2 316.4v2M287.8 316.4v2M293.4 316.4v2M299.0 316.4v2M304.5 316.4v2M310.1 316.4v2M315.7 316.4v2M321.3 316.4v2M326.9 316.4v2M332.4 316.4v2M338.0 316.4v2M343.6 316.4v2M349.2 316.4v2M354.8 316.4v2M148.3 310.4v2M153.9 310.4v2M159.5 310.4v2M165.0 310.4v2M170.6 310.4v2M176.2 310.4v2M181.8 310.4v2M187.4 310.4v2M192.9 310.4v2M198.5 310.4v2M204.1 310.4v2M209.7 310.4v2M215.3 310.4v2M220.8 310.4v2M226.4 310.4v2M232.0 310.4v2M237.6 310.4v2M243.2 310.4v2M248.7 310.4v2M254.3 310.4v2M259.9 310.4v2M265.5 310.4v2M271.1 310.4v2M276.6 310.4v2M282.2 310.4v2M287.8 310.4v2M293.4 310.4v2M299.0 310.4v2M304.5 310.4v2M310.1 310.4v2M315.7 310.4v2M321.3 310.4v2M326.9 310.4v2M332.4 310.4v2M338.0 310.4v2M343.6 310.4v2M349.2 310.4v2M354.8 310.4v2M148.3 304.4v2M153.9 304.4v2M159.5 304.4v2M165.0 304.4v2M170.6 304.4v2M176.2 304.4v2M181.8 304.4v2M187.4 304.4v2M192.9 304.4v2M198.5 304.4v2M204.1 304.4v2M209.7 304.4v2M215.3 304.4v2M220.8 304.4v2M226.4 304.4v2M232.0 304.4v2M237.6 304.4v2M243.2 304.4v2M248.7 304.4v2M254.3 304.4v2M259.9 304.4v2M265.5 304.4v2M271.1 304.4v2M276.6 304.4v2M282.2 304.4v2M287.8 304.4v2M293.4 304.4v2M299.0 304.4v2M304.5 304.4v2M310.1 304.4v2M315.7 304.4v2M321.3 304.4v2M326.9 304.4v2M332.4 304.4v2M338.0 304.4v2M343.6 304.4v2M349.2 304.4v2M354.8 304.4v2" stroke="#bababa" stroke-width="1.3" fill="none"/>
<line x1="147.40" y1="359.40" x2="355.40" y2="359.40" stroke="#dfdfdf" stroke-width="1.5"/>
<line x1="147.40" y1="329.40" x2="355.40" y2="329.40" stroke="#dfdfdf" stroke-width="1.5"/>
<line x1="147.40" y1="299.40" x2="355.40" y2="299.40" stroke="#dfdfdf" stroke-width="1.5"/>
<line x1="189.00" y1="299.40" x2="189.00" y2="359.40" stroke="#dfdfdf" stroke-width="1.5"/>
<line x1="230.60" y1="299.40" x2="230.60" y2="359.40" stroke="#dfdfdf" stroke-width="1.5"/>
<line x1="272.20" y1="299.40" x2="272.20" y2="359.40" stroke="#dfdfdf" stroke-width="1.5"/>
<line x1="313.80" y1="299.40" x2="313.80" y2="359.40" stroke="#dfdfdf" stroke-width="1.5"/>
<line x1="147.40" y1="359.40" x2="150.60" y2="359.40" stroke="#262626" stroke-width="1.5"/>
<line x1="355.40" y1="359.40" x2="352.20" y2="359.40" stroke="#262626" stroke-width="1.5"/>
<line x1="147.40" y1="329.40" x2="150.60" y2="329.40" stroke="#262626" stroke-width="1.5"/>
<line x1="355.40" y1="329.40" x2="352.20" y2="329.40" stroke="#262626" stroke-width="1.5"/>
<line x1="147.40" y1="299.40" x2="150.60" y2="299.40" stroke="#262626" stroke-width="1.5"/>
<line x1="355.40" y1="299.40" x2="352.20" y2="299.40" stroke="#262626" stroke-width="1.5"/>
<line x1="147.40" y1="359.40" x2="147.40" y2="356.20" stroke="#262626" stroke-width="1.5"/>
<line x1="147.40" y1="299.40" x2="147.40" y2="302.60" stroke="#262626" stroke-width="1.5"/>
<line x1="189.00" y1="359.40" x2="189.00" y2="356.20" stroke="#262626" stroke-width="1.5"/>
<line x1="189.00" y1="299.40" x2="189.00" y2="302.60" stroke="#262626" stroke-width="1.5"/>
<line x1="230.60" y1="359.40" x2="230.60" y2="356.20" stroke="#262626" stroke-width="1.5"/>
<line x1="230.60" y1="299.40" x2="230.60" y2="302.60" stroke="#262626" stroke-width="1.5"/>
<line x1="272.20" y1="359.40" x2="272.20" y2="356.20" stroke="#262626" stroke-width="1.5"/>
<line x1="272.20" y1="299.40" x2="272.20" y2="302.60" stroke="#262626" stroke-width="1.5"/>
<line x1="313.80" y1="359.40" x2="313.80" y2="356.20" stroke="#262626" stroke-width="1.5"/>
<line x1="313.80" y1="299.40" x2="313.80" y2="302.60" stroke="#262626" stroke-width="1.5"/>
<line x1="355.40" y1="359.40" x2="355.40" y2="356.20" stroke="#262626" stroke-width="1.5"/>
<line x1="355.40" y1="299.40" x2="355.40" y2="302.60" stroke="#262626" stroke-width="1.5"/>
<rect x="147.40" y="299.40" width="208.00" height="60.00" fill="none" stroke="#262626" stroke-width="1.9"/>
<text x="139.20" y="365.80" text-anchor="end" font-size="19.3" fill="#262626">0</text>
<text x="139.20" y="335.80" text-anchor="end" font-size="19.3" fill="#262626">1000</text>
<text x="139.20" y="305.80" text-anchor="end" font-size="19.3" fill="#262626">2000</text>
<text transform="translate(83.80,384.00) rotate(-90)" font-size="21.3" fill="#262626" textLength="107.80" lengthAdjust="spacingAndGlyphs">MIXDEPTH</text>
<g fill="none" stroke="#0072BD" stroke-width="1.9"><circle cx="157.80" cy="355.00" r="4.3"/><circle cx="159.53" cy="354.88" r="4.3"/><circle cx="161.27" cy="354.75" r="4.3"/><circle cx="163.00" cy="354.63" r="4.3"/><circle cx="164.73" cy="354.50" r="4.3"/><circle cx="166.47" cy="354.38" r="4.3"/><circle cx="168.20" cy="354.26" r="4.3"/><circle cx="169.93" cy="353.27" r="4.3"/><circle cx="171.67" cy="351.53" r="4.3"/><circle cx="173.40" cy="346.40" r="4.3"/><circle cx="175.13" cy="341.80" r="4.3"/><circle cx="176.87" cy="337.30" r="4.3"/><circle cx="178.60" cy="324.20" r="4.3"/><circle cx="180.33" cy="356.00" r="4.3"/><circle cx="182.07" cy="357.15" r="4.3"/><circle cx="183.80" cy="358.35" r="4.3"/><circle cx="185.53" cy="358.90" r="4.3"/><circle cx="187.27" cy="358.90" r="4.3"/><circle cx="189.00" cy="358.90" r="4.3"/><circle cx="190.73" cy="358.90" r="4.3"/><circle cx="192.47" cy="358.58" r="4.3"/><circle cx="194.20" cy="357.86" r="4.3"/><circle cx="195.93" cy="357.15" r="4.3"/><circle cx="197.67" cy="356.43" r="4.3"/><circle cx="199.40" cy="355.51" r="4.3"/><circle cx="201.13" cy="354.29" r="4.3"/><circle cx="202.87" cy="353.08" r="4.3"/><circle cx="204.60" cy="351.39" r="4.3"/><circle cx="206.33" cy="346.14" r="4.3"/><circle cx="208.07" cy="340.69" r="4.3"/><circle cx="209.80" cy="334.50" r="4.3"/><circle cx="211.53" cy="328.98" r="4.3"/><circle cx="213.27" cy="323.92" r="4.3"/><circle cx="215.00" cy="319.23" r="4.3"/><circle cx="216.73" cy="315.13" r="4.3"/><circle cx="218.47" cy="311.67" r="4.3"/><circle cx="220.20" cy="310.89" r="4.3"/><circle cx="221.93" cy="310.58" r="4.3"/><circle cx="223.67" cy="310.84" r="4.3"/><circle cx="225.40" cy="311.11" r="4.3"/><circle cx="227.13" cy="311.37" r="4.3"/><circle cx="228.87" cy="311.30" r="4.3"/><circle cx="230.60" cy="310.90" r="4.3"/><circle cx="232.33" cy="310.49" r="4.3"/><circle cx="234.07" cy="309.85" r="4.3"/><circle cx="235.80" cy="309.20" r="4.3"/><circle cx="237.53" cy="308.56" r="4.3"/><circle cx="239.27" cy="309.84" r="4.3"/><circle cx="241.00" cy="311.32" r="4.3"/><circle cx="242.73" cy="312.80" r="4.3"/><circle cx="244.47" cy="313.98" r="4.3"/><circle cx="246.20" cy="315.05" r="4.3"/><circle cx="247.93" cy="316.12" r="4.3"/><circle cx="249.67" cy="317.19" r="4.3"/><circle cx="251.40" cy="318.24" r="4.3"/><circle cx="253.13" cy="319.28" r="4.3"/><circle cx="254.87" cy="321.00" r="4.3"/><circle cx="256.60" cy="323.00" r="4.3"/><circle cx="258.33" cy="331.80" r="4.3"/><circle cx="260.07" cy="351.50" r="4.3"/><circle cx="261.80" cy="355.89" r="4.3"/><circle cx="263.53" cy="357.70" r="4.3"/><circle cx="265.27" cy="358.13" r="4.3"/><circle cx="267.00" cy="358.56" r="4.3"/><circle cx="268.73" cy="358.59" r="4.3"/><circle cx="270.47" cy="356.98" r="4.3"/><circle cx="272.20" cy="355.37" r="4.3"/><circle cx="273.93" cy="353.76" r="4.3"/><circle cx="275.67" cy="352.00" r="4.3"/><circle cx="277.40" cy="348.93" r="4.3"/><circle cx="279.13" cy="345.90" r="4.3"/><circle cx="280.87" cy="342.98" r="4.3"/><circle cx="282.60" cy="338.96" r="4.3"/><circle cx="284.33" cy="332.81" r="4.3"/><circle cx="286.07" cy="326.20" r="4.3"/><circle cx="287.80" cy="320.66" r="4.3"/><circle cx="289.53" cy="316.78" r="4.3"/><circle cx="291.27" cy="315.94" r="4.3"/><circle cx="293.00" cy="315.10" r="4.3"/><circle cx="294.73" cy="318.31" r="4.3"/><circle cx="296.47" cy="322.89" r="4.3"/><circle cx="298.20" cy="327.70" r="4.3"/><circle cx="299.93" cy="334.93" r="4.3"/><circle cx="301.67" cy="343.20" r="4.3"/><circle cx="303.40" cy="352.30" r="4.3"/><circle cx="305.13" cy="345.50" r="4.3"/><circle cx="306.87" cy="348.00" r="4.3"/><circle cx="308.60" cy="344.50" r="4.3"/><circle cx="310.33" cy="349.50" r="4.3"/><circle cx="312.07" cy="346.00" r="4.3"/><circle cx="313.80" cy="350.00" r="4.3"/><circle cx="315.53" cy="347.00" r="4.3"/><circle cx="317.27" cy="349.50" r="4.3"/><circle cx="319.00" cy="346.50" r="4.3"/><circle cx="320.73" cy="345.00" r="4.3"/><circle cx="322.47" cy="342.50" r="4.3"/><circle cx="324.20" cy="341.50" r="4.3"/></g>
<path d="M491.4 352.4v2M497.0 352.4v2M502.6 352.4v2M508.1 352.4v2M513.7 352.4v2M519.3 352.4v2M524.9 352.4v2M530.5 352.4v2M536.0 352.4v2M541.6 352.4v2M547.2 352.4v2M552.8 352.4v2M558.4 352.4v2M563.9 352.4v2M569.5 352.4v2M575.1 352.4v2M580.7 352.4v2M586.3 352.4v2M591.8 352.4v2M597.4 352.4v2M603.0 352.4v2M608.6 352.4v2M614.2 352.4v2M619.7 352.4v2M625.3 352.4v2M630.9 352.4v2M636.5 352.4v2M642.1 352.4v2M647.6 352.4v2M653.2 352.4v2M658.8 352.4v2M664.4 352.4v2M670.0 352.4v2M675.5 352.4v2M681.1 352.4v2M686.7 352.4v2M692.3 352.4v2M697.9 352.4v2M491.4 346.4v2M497.0 346.4v2M502.6 346.4v2M508.1 346.4v2M513.7 346.4v2M519.3 346.4v2M524.9 346.4v2M530.5 346.4v2M536.0 346.4v2M541.6 346.4v2M547.2 346.4v2M552.8 346.4v2M558.4 346.4v2M563.9 346.4v2M569.5 346.4v2M575.1 346.4v2M580.7 346.4v2M586.3 346.4v2M591.8 346.4v2M597.4 346.4v2M603.0 346.4v2M608.6 346.4v2M614.2 346.4v2M619.7 346.4v2M625.3 346.4v2M630.9 346.4v2M636.5 346.4v2M642.1 346.4v2M647.6 346.4v2M653.2 346.4v2M658.8 346.4v2M664.4 346.4v2M670.0 346.4v2M675.5 346.4v2M681.1 346.4v2M686.7 346.4v2M692.3 346.4v2M697.9 346.4v2M491.4 340.4v2M497.0 340.4v2M502.6 340.4v2M508.1 340.4v2M513.7 340.4v2M519.3 340.4v2M524.9 340.4v2M530.5 340.4v2M536.0 340.4v2M541.6 340.4v2M547.2 340.4v2M552.8 340.4v2M558.4 340.4v2M563.9 340.4v2M569.5 340.4v2M575.1 340.4v2M580.7 340.4v2M586.3 340.4v2M591.8 340.4v2M597.4 340.4v2M603.0 340.4v2M608.6 340.4v2M614.2 340.4v2M619.7 340.4v2M625.3 340.4v2M630.9 340.4v2M636.5 340.4v2M642.1 340.4v2M647.6 340.4v2M653.2 340.4v2M658.8 340.4v2M664.4 340.4v2M670.0 340.4v2M675.5 340.4v2M681.1 340.4v2M686.7 340.4v2M692.3 340.4v2M697.9 340.4v2M491.4 334.4v2M497.0 334.4v2M502.6 334.4v2M508.1 334.4v2M513.7 334.4v2M519.3 334.4v2M524.9 334.4v2M530.5 334.4v2M536.0 334.4v2M541.6 334.4v2M547.2 334.4v2M552.8 334.4v2M558.4 334.4v2M563.9 334.4v2M569.5 334.4v2M575.1 334.4v2M580.7 334.4v2M586.3 334.4v2M591.8 334.4v2M597.4 334.4v2M603.0 334.4v2M608.6 334.4v2M614.2 334.4v2M619.7 334.4v2M625.3 334.4v2M630.9 334.4v2M636.5 334.4v2M642.1 334.4v2M647.6 334.4v2M653.2 334.4v2M658.8 334.4v2M664.4 334.4v2M670.0 334.4v2M675.5 334.4v2M681.1 334.4v2M686.7 334.4v2M692.3 334.4v2M697.9 334.4v2M491.4 322.4v2M497.0 322.4v2M502.6 322.4v2M508.1 322.4v2M513.7 322.4v2M519.3 322.4v2M524.9 322.4v2M530.5 322.4v2M536.0 322.4v2M541.6 322.4v2M547.2 322.4v2M552.8 322.4v2M558.4 322.4v2M563.9 322.4v2M569.5 322.4v2M575.1 322.4v2M580.7 322.4v2M586.3 322.4v2M591.8 322.4v2M597.4 322.4v2M603.0 322.4v2M608.6 322.4v2M614.2 322.4v2M619.7 322.4v2M625.3 322.4v2M630.9 322.4v2M636.5 322.4v2M642.1 322.4v2M647.6 322.4v2M653.2 322.4v2M658.8 322.4v2M664.4 322.4v2M670.0 322.4v2M675.5 322.4v2M681.1 322.4v2M686.7 322.4v2M692.3 322.4v2M697.9 322.4v2M491.4 316.4v2M497.0 316.4v2M502.6 316.4v2M508.1 316.4v2M513.7 316.4v2M519.3 316.4v2M524.9 316.4v2M530.5 316.4v2M536.0 316.4v2M541.6 316.4v2M547.2 316.4v2M552.8 316.4v2M558.4 316.4v2M563.9 316.4v2M569.5 316.4v2M575.1 316.4v2M580.7 316.4v2M586.3 316.4v2M591.8 316.4v2M597.4 316.4v2M603.0 316.4v2M608.6 316.4v2M614.2 316.4v2M619.7 316.4v2M625.3 316.4v2M630.9 316.4v2M636.5 316.4v2M642.1 316.4v2M647.6 316.4v2M653.2 316.4v2M658.8 316.4v2M664.4 316.4v2M670.0 316.4v2M675.5 316.4v2M681.1 316.4v2M686.7 316.4v2M692.3 316.4v2M697.9 316.4v2M491.4 310.4v2M497.0 310.4v2M502.6 310.4v2M508.1 310.4v2M513.7 310.4v2M519.3 310.4v2M524.9 310.4v2M530.5 310.4v2M536.0 310.4v2M541.6 310.4v2M547.2 310.4v2M552.8 310.4v2M558.4 310.4v2M563.9 310.4v2M569.5 310.4v2M575.1 310.4v2M580.7 310.4v2M586.3 310.4v2M591.8 310.4v2M597.4 310.4v2M603.0 310.4v2M608.6 310.4v2M614.2 310.4v2M619.7 310.4v2M625.3 310.4v2M630.9 310.4v2M636.5 310.4v2M642.1 310.4v2M647.6 310.4v2M653.2 310.4v2M658.8 310.4v2M664.4 310.4v2M670.0 310.4v2M675.5 310.4v2M681.1 310.4v2M686.7 310.4v2M692.3 310.4v2M697.9 310.4v2M491.4 304.4v2M497.0 304.4v2M502.6 304.4v2M508.1 304.4v2M513.7 304.4v2M519.3 304.4v2M524.9 304.4v2M530.5 304.4v2M536.0 304.4v2M541.6 304.4v2M547.2 304.4v2M552.8 304.4v2M558.4 304.4v2M563.9 304.4v2M569.5 304.4v2M575.1 304.4v2M580.7 304.4v2M586.3 304.4v2M591.8 304.4v2M597.4 304.4v2M603.0 304.4v2M608.6 304.4v2M614.2 304.4v2M619.7 304.4v2M625.3 304.4v2M630.9 304.4v2M636.5 304.4v2M642.1 304.4v2M647.6 304.4v2M653.2 304.4v2M658.8 304.4v2M664.4 304.4v2M670.0 304.4v2M675.5 304.4v2M681.1 304.4v2M686.7 304.4v2M692.3 304.4v2M697.9 304.4v2" stroke="#bababa" stroke-width="1.3" fill="none"/>
<line x1="490.50" y1="359.40" x2="698.60" y2="359.40" stroke="#dfdfdf" stroke-width="1.5"/>
<line x1="490.50" y1="329.40" x2="698.60" y2="329.40" stroke="#dfdfdf" stroke-width="1.5"/>
<line x1="490.50" y1="299.40" x2="698.60" y2="299.40" stroke="#dfdfdf" stroke-width="1.5"/>
<line x1="532.12" y1="299.40" x2="532.12" y2="359.40" stroke="#dfdfdf" stroke-width="1.5"/>
<line x1="573.74" y1="299.40" x2="573.74" y2="359.40" stroke="#dfdfdf" stroke-width="1.5"/>
<line x1="615.36" y1="299.40" x2="615.36" y2="359.40" stroke="#dfdfdf" stroke-width="1.5"/>
<line x1="656.98" y1="299.40" x2="656.98" y2="359.40" stroke="#dfdfdf" stroke-width="1.5"/>
<line x1="490.50" y1="359.40" x2="493.70" y2="359.40" stroke="#262626" stroke-width="1.5"/>
<line x1="698.60" y1="359.40" x2="695.40" y2="359.40" stroke="#262626" stroke-width="1.5"/>
<line x1="490.50" y1="329.40" x2="493.70" y2="329.40" stroke="#262626" stroke-width="1.5"/>
<line x1="698.60" y1="329.40" x2="695.40" y2="329.40" stroke="#262626" stroke-width="1.5"/>
<line x1="490.50" y1="299.40" x2="493.70" y2="299.40" stroke="#262626" stroke-width="1.5"/>
<line x1="698.60" y1="299.40" x2="695.40" y2="299.40" stroke="#262626" stroke-width="1.5"/>
<line x1="490.50" y1="359.40" x2="490.50" y2="356.20" stroke="#262626" stroke-width="1.5"/>
<line x1="490.50" y1="299.40" x2="490.50" y2="302.60" stroke="#262626" stroke-width="1.5"/>
<line x1="532.12" y1="359.40" x2="532.12" y2="356.20" stroke="#262626" stroke-width="1.5"/>
<line x1="532.12" y1="299.40" x2="532.12" y2="302.60" stroke="#262626" stroke-width="1.5"/>
<line x1="573.74" y1="359.40" x2="573.74" y2="356.20" stroke="#262626" stroke-width="1.5"/>
<line x1="573.74" y1="299.40" x2="573.74" y2="302.60" stroke="#262626" stroke-width="1.5"/>
<line x1="615.36" y1="359.40" x2="615.36" y2="356.20" stroke="#262626" stroke-width="1.5"/>
<line x1="615.36" y1="299.40" x2="615.36" y2="302.60" stroke="#262626" stroke-width="1.5"/>
<line x1="656.98" y1="359.40" x2="656.98" y2="356.20" stroke="#262626" stroke-width="1.5"/>
<line x1="656.98" y1="299.40" x2="656.98" y2="302.60" stroke="#262626" stroke-width="1.5"/>
<line x1="698.60" y1="359.40" x2="698.60" y2="356.20" stroke="#262626" stroke-width="1.5"/>
<line x1="698.60" y1="299.40" x2="698.60" y2="302.60" stroke="#262626" stroke-width="1.5"/>
<rect x="490.50" y="299.40" width="208.10" height="60.00" fill="none" stroke="#262626" stroke-width="1.9"/>
<text x="482.30" y="365.80" text-anchor="end" font-size="19.3" fill="#262626">0</text>
<text x="482.30" y="335.80" text-anchor="end" font-size="19.3" fill="#262626">1</text>
<text x="482.30" y="305.80" text-anchor="end" font-size="19.3" fill="#262626">2</text>
<text transform="translate(460.20,385.00) rotate(-90)" font-size="21.3" fill="#262626" textLength="111.00" lengthAdjust="spacingAndGlyphs">H2OMIXRA</text>
<g fill="none" stroke="#0072BD" stroke-width="1.9"><circle cx="500.90" cy="347.60" r="4.3"/><circle cx="502.63" cy="347.60" r="4.3"/><circle cx="504.37" cy="347.60" r="4.3"/><circle cx="506.10" cy="347.60" r="4.3"/><circle cx="507.83" cy="347.60" r="4.3"/><circle cx="509.57" cy="347.60" r="4.3"/><circle cx="511.30" cy="347.60" r="4.3"/><circle cx="513.03" cy="347.60" r="4.3"/><circle cx="514.77" cy="347.60" r="4.3"/><circle cx="516.50" cy="347.60" r="4.3"/><circle cx="518.23" cy="347.60" r="4.3"/><circle cx="519.97" cy="347.60" r="4.3"/><circle cx="521.70" cy="347.60" r="4.3"/><circle cx="523.43" cy="347.60" r="4.3"/><circle cx="525.17" cy="347.60" r="4.3"/><circle cx="526.90" cy="347.60" r="4.3"/><circle cx="528.63" cy="345.84" r="4.3"/><circle cx="530.37" cy="343.98" r="4.3"/><circle cx="532.10" cy="343.23" r="4.3"/><circle cx="533.83" cy="343.11" r="4.3"/><circle cx="535.57" cy="343.00" r="4.3"/><circle cx="537.30" cy="342.89" r="4.3"/><circle cx="539.03" cy="342.77" r="4.3"/><circle cx="540.77" cy="342.66" r="4.3"/><circle cx="542.50" cy="342.67" r="4.3"/><circle cx="544.23" cy="342.81" r="4.3"/><circle cx="545.97" cy="342.95" r="4.3"/><circle cx="547.70" cy="343.09" r="4.3"/><circle cx="549.43" cy="343.24" r="4.3"/><circle cx="551.17" cy="342.36" r="4.3"/><circle cx="552.90" cy="340.66" r="4.3"/><circle cx="554.63" cy="338.70" r="4.3"/><circle cx="556.37" cy="333.43" r="4.3"/><circle cx="558.10" cy="329.38" r="4.3"/><circle cx="559.83" cy="326.74" r="4.3"/><circle cx="561.57" cy="324.17" r="4.3"/><circle cx="563.30" cy="323.32" r="4.3"/><circle cx="565.03" cy="322.46" r="4.3"/><circle cx="566.77" cy="321.61" r="4.3"/><circle cx="568.50" cy="320.44" r="4.3"/><circle cx="570.23" cy="319.16" r="4.3"/><circle cx="571.97" cy="317.89" r="4.3"/><circle cx="573.70" cy="316.89" r="4.3"/><circle cx="575.43" cy="316.20" r="4.3"/><circle cx="577.17" cy="315.52" r="4.3"/><circle cx="578.90" cy="314.87" r="4.3"/><circle cx="580.63" cy="314.31" r="4.3"/><circle cx="582.37" cy="313.74" r="4.3"/><circle cx="584.10" cy="312.95" r="4.3"/><circle cx="585.83" cy="312.08" r="4.3"/><circle cx="587.57" cy="311.22" r="4.3"/><circle cx="589.30" cy="310.75" r="4.3"/><circle cx="591.03" cy="310.66" r="4.3"/><circle cx="592.77" cy="310.57" r="4.3"/><circle cx="594.50" cy="310.77" r="4.3"/><circle cx="596.23" cy="311.94" r="4.3"/><circle cx="597.97" cy="313.11" r="4.3"/><circle cx="599.70" cy="315.29" r="4.3"/><circle cx="601.43" cy="318.22" r="4.3"/><circle cx="603.17" cy="321.06" r="4.3"/><circle cx="604.90" cy="323.41" r="4.3"/><circle cx="606.63" cy="325.77" r="4.3"/><circle cx="608.37" cy="327.34" r="4.3"/><circle cx="610.10" cy="328.62" r="4.3"/><circle cx="611.83" cy="329.91" r="4.3"/><circle cx="613.57" cy="331.19" r="4.3"/><circle cx="615.30" cy="332.48" r="4.3"/><circle cx="617.03" cy="331.12" r="4.3"/><circle cx="618.77" cy="329.20" r="4.3"/><circle cx="620.50" cy="327.28" r="4.3"/><circle cx="622.23" cy="326.77" r="4.3"/><circle cx="623.97" cy="327.45" r="4.3"/><circle cx="625.70" cy="328.14" r="4.3"/><circle cx="627.43" cy="328.82" r="4.3"/><circle cx="629.17" cy="325.70" r="4.3"/><circle cx="630.90" cy="317.61" r="4.3"/><circle cx="632.63" cy="312.66" r="4.3"/><circle cx="634.37" cy="312.09" r="4.3"/><circle cx="636.10" cy="311.52" r="4.3"/><circle cx="637.83" cy="310.95" r="4.3"/><circle cx="639.57" cy="310.04" r="4.3"/><circle cx="641.30" cy="309.00" r="4.3"/><circle cx="643.03" cy="307.96" r="4.3"/><circle cx="644.77" cy="306.92" r="4.3"/><circle cx="646.50" cy="305.69" r="4.3"/><circle cx="648.23" cy="304.39" r="4.3"/><circle cx="649.97" cy="303.08" r="4.3"/><circle cx="651.70" cy="302.02" r="4.3"/><circle cx="653.43" cy="301.34" r="4.3"/><circle cx="655.17" cy="300.66" r="4.3"/><circle cx="656.90" cy="299.97" r="4.3"/><circle cx="658.63" cy="299.43" r="4.3"/><circle cx="660.37" cy="299.22" r="4.3"/><circle cx="662.10" cy="299.00" r="4.3"/><circle cx="663.83" cy="299.17" r="4.3"/><circle cx="665.57" cy="303.93" r="4.3"/><circle cx="667.30" cy="308.70" r="4.3"/></g>
<path d="M148.3 478.7v2M153.9 478.7v2M159.5 478.7v2M165.0 478.7v2M170.6 478.7v2M176.2 478.7v2M181.8 478.7v2M187.4 478.7v2M192.9 478.7v2M198.5 478.7v2M204.1 478.7v2M209.7 478.7v2M215.3 478.7v2M220.8 478.7v2M226.4 478.7v2M232.0 478.7v2M237.6 478.7v2M243.2 478.7v2M248.7 478.7v2M254.3 478.7v2M259.9 478.7v2M265.5 478.7v2M271.1 478.7v2M276.6 478.7v2M282.2 478.7v2M287.8 478.7v2M293.4 478.7v2M299.0 478.7v2M304.5 478.7v2M310.1 478.7v2M315.7 478.7v2M321.3 478.7v2M326.9 478.7v2M332.4 478.7v2M338.0 478.7v2M343.6 478.7v2M349.2 478.7v2M354.8 478.7v2M148.3 471.2v2M153.9 471.2v2M159.5 471.2v2M165.0 471.2v2M170.6 471.2v2M176.2 471.2v2M181.8 471.2v2M187.4 471.2v2M192.9 471.2v2M198.5 471.2v2M204.1 471.2v2M209.7 471.2v2M215.3 471.2v2M220.8 471.2v2M226.4 471.2v2M232.0 471.2v2M237.6 471.2v2M243.2 471.2v2M248.7 471.2v2M254.3 471.2v2M259.9 471.2v2M265.5 471.2v2M271.1 471.2v2M276.6 471.2v2M282.2 471.2v2M287.8 471.2v2M293.4 471.2v2M299.0 471.2v2M304.5 471.2v2M310.1 471.2v2M315.7 471.2v2M321.3 471.2v2M326.9 471.2v2M332.4 471.2v2M338.0 471.2v2M343.6 471.2v2M349.2 471.2v2M354.8 471.2v2M148.3 463.7v2M153.9 463.7v2M159.5 463.7v2M165.0 463.7v2M170.6 463.7v2M176.2 463.7v2M181.8 463.7v2M187.4 463.7v2M192.9 463.7v2M198.5 463.7v2M204.1 463.7v2M209.7 463.7v2M215.3 463.7v2M220.8 463.7v2M226.4 463.7v2M232.0 463.7v2M237.6 463.7v2M243.2 463.7v2M248.7 463.7v2M254.3 463.7v2M259.9 463.7v2M265.5 463.7v2M271.1 463.7v2M276.6 463.7v2M282.2 463.7v2M287.8 463.7v2M293.4 463.7v2M299.0 463.7v2M304.5 463.7v2M310.1 463.7v2M315.7 463.7v2M321.3 463.7v2M326.9 463.7v2M332.4 463.7v2M338.0 463.7v2M343.6 463.7v2M349.2 463.7v2M354.8 463.7v2M148.3 448.8v2M153.9 448.8v2M159.5 448.8v2M165.0 448.8v2M170.6 448.8v2M176.2 448.8v2M181.8 448.8v2M187.4 448.8v2M192.9 448.8v2M198.5 448.8v2M204.1 448.8v2M209.7 448.8v2M215.3 448.8v2M220.8 448.8v2M226.4 448.8v2M232.0 448.8v2M237.6 448.8v2M243.2 448.8v2M248.7 448.8v2M254.3 448.8v2M259.9 448.8v2M265.5 448.8v2M271.1 448.8v2M276.6 448.8v2M282.2 448.8v2M287.8 448.8v2M293.4 448.8v2M299.0 448.8v2M304.5 448.8v2M310.1 448.8v2M315.7 448.8v2M321.3 448.8v2M326.9 448.8v2M332.4 448.8v2M338.0 448.8v2M343.6 448.8v2M349.2 448.8v2M354.8 448.8v2M148.3 441.3v2M153.9 441.3v2M159.5 441.3v2M165.0 441.3v2M170.6 441.3v2M176.2 441.3v2M181.8 441.3v2M187.4 441.3v2M192.9 441.3v2M198.5 441.3v2M204.1 441.3v2M209.7 441.3v2M215.3 441.3v2M220.8 441.3v2M226.4 441.3v2M232.0 441.3v2M237.6 441.3v2M243.2 441.3v2M248.7 441.3v2M254.3 441.3v2M259.9 441.3v2M265.5 441.3v2M271.1 441.3v2M276.6 441.3v2M282.2 441.3v2M287.8 441.3v2M293.4 441.3v2M299.0 441.3v2M304.5 441.3v2M310.1 441.3v2M315.7 441.3v2M321.3 441.3v2M326.9 441.3v2M332.4 441.3v2M338.0 441.3v2M343.6 441.3v2M349.2 441.3v2M354.8 441.3v2M148.3 433.8v2M153.9 433.8v2M159.5 433.8v2M165.0 433.8v2M170.6 433.8v2M176.2 433.8v2M181.8 433.8v2M187.4 433.8v2M192.9 433.8v2M198.5 433.8v2M204.1 433.8v2M209.7 433.8v2M215.3 433.8v2M220.8 433.8v2M226.4 433.8v2M232.0 433.8v2M237.6 433.8v2M243.2 433.8v2M248.7 433.8v2M254.3 433.8v2M259.9 433.8v2M265.5 433.8v2M271.1 433.8v2M276.6 433.8v2M282.2 433.8v2M287.8 433.8v2M293.4 433.8v2M299.0 433.8v2M304.5 433.8v2M310.1 433.8v2M315.7 433.8v2M321.3 433.8v2M326.9 433.8v2M332.4 433.8v2M338.0 433.8v2M343.6 433.8v2M349.2 433.8v2M354.8 433.8v2" stroke="#bababa" stroke-width="1.3" fill="none"/>
<line x1="147.40" y1="487.20" x2="355.40" y2="487.20" stroke="#dfdfdf" stroke-width="1.5"/>
<line x1="147.40" y1="457.25" x2="355.40" y2="457.25" stroke="#dfdfdf" stroke-width="1.5"/>
<line x1="147.40" y1="427.30" x2="355.40" y2="427.30" stroke="#dfdfdf" stroke-width="1.5"/>
<line x1="189.00" y1="427.30" x2="189.00" y2="487.20" stroke="#dfdfdf" stroke-width="1.5"/>
<line x1="230.60" y1="427.30" x2="230.60" y2="487.20" stroke="#dfdfdf" stroke-width="1.5"/>
<line x1="272.20" y1="427.30" x2="272.20" y2="487.20" stroke="#dfdfdf" stroke-width="1.5"/>
<line x1="313.80" y1="427.30" x2="313.80" y2="487.20" stroke="#dfdfdf" stroke-width="1.5"/>
<line x1="147.40" y1="487.20" x2="150.60" y2="487.20" stroke="#262626" stroke-width="1.5"/>
<line x1="355.40" y1="487.20" x2="352.20" y2="487.20" stroke="#262626" stroke-width="1.5"/>
<line x1="147.40" y1="457.25" x2="150.60" y2="457.25" stroke="#262626" stroke-width="1.5"/>
<line x1="355.40" y1="457.25" x2="352.20" y2="457.25" stroke="#262626" stroke-width="1.5"/>
<line x1="147.40" y1="427.30" x2="150.60" y2="427.30" stroke="#262626" stroke-width="1.5"/>
<line x1="355.40" y1="427.30" x2="352.20" y2="427.30" stroke="#262626" stroke-width="1.5"/>
<line x1="147.40" y1="487.20" x2="147.40" y2="484.00" stroke="#262626" stroke-width="1.5"/>
<line x1="147.40" y1="427.30" x2="147.40" y2="430.50" stroke="#262626" stroke-width="1.5"/>
<line x1="189.00" y1="487.20" x2="189.00" y2="484.00" stroke="#262626" stroke-width="1.5"/>
<line x1="189.00" y1="427.30" x2="189.00" y2="430.50" stroke="#262626" stroke-width="1.5"/>
<line x1="230.60" y1="487.20" x2="230.60" y2="484.00" stroke="#262626" stroke-width="1.5"/>
<line x1="230.60" y1="427.30" x2="230.60" y2="430.50" stroke="#262626" stroke-width="1.5"/>
<line x1="272.20" y1="487.20" x2="272.20" y2="484.00" stroke="#262626" stroke-width="1.5"/>
<line x1="272.20" y1="427.30" x2="272.20" y2="430.50" stroke="#262626" stroke-width="1.5"/>
<line x1="313.80" y1="487.20" x2="313.80" y2="484.00" stroke="#262626" stroke-width="1.5"/>
<line x1="313.80" y1="427.30" x2="313.80" y2="430.50" stroke="#262626" stroke-width="1.5"/>
<line x1="355.40" y1="487.20" x2="355.40" y2="484.00" stroke="#262626" stroke-width="1.5"/>
<line x1="355.40" y1="427.30" x2="355.40" y2="430.50" stroke="#262626" stroke-width="1.5"/>
<rect x="147.40" y="427.30" width="208.00" height="59.90" fill="none" stroke="#262626" stroke-width="1.9"/>
<text x="139.20" y="493.60" text-anchor="end" font-size="19.3" fill="#262626">0</text>
<text x="139.20" y="463.65" text-anchor="end" font-size="19.3" fill="#262626">200</text>
<text x="139.20" y="433.70" text-anchor="end" font-size="19.3" fill="#262626">400</text>
<text transform="translate(86.20,502.60) rotate(-90)" font-size="21.3" fill="#262626" textLength="51.80" lengthAdjust="spacingAndGlyphs">TERR</text>
<text transform="translate(96.00,449.80) rotate(-90)" font-size="16.5" fill="#262626" textLength="15.20" lengthAdjust="spacingAndGlyphs">M</text>
<text transform="translate(86.20,436.00) rotate(-90)" font-size="21.3" fill="#262626" textLength="24.20" lengthAdjust="spacingAndGlyphs">SL</text>
<g fill="none" stroke="#0072BD" stroke-width="1.9"><circle cx="157.80" cy="487.20" r="4.3"/><circle cx="159.53" cy="487.20" r="4.3"/><circle cx="161.27" cy="487.20" r="4.3"/><circle cx="163.00" cy="487.20" r="4.3"/><circle cx="164.73" cy="487.20" r="4.3"/><circle cx="166.47" cy="487.20" r="4.3"/><circle cx="168.20" cy="487.20" r="4.3"/><circle cx="169.93" cy="487.20" r="4.3"/><circle cx="171.67" cy="487.20" r="4.3"/><circle cx="173.40" cy="487.20" r="4.3"/><circle cx="175.13" cy="487.20" r="4.3"/><circle cx="176.87" cy="487.20" r="4.3"/><circle cx="178.60" cy="487.20" r="4.3"/><circle cx="192.47" cy="487.20" r="4.3"/><circle cx="194.20" cy="487.20" r="4.3"/><circle cx="195.93" cy="487.20" r="4.3"/><circle cx="197.67" cy="487.20" r="4.3"/><circle cx="199.40" cy="487.20" r="4.3"/><circle cx="201.13" cy="487.20" r="4.3"/><circle cx="202.87" cy="487.20" r="4.3"/><circle cx="204.60" cy="487.20" r="4.3"/><circle cx="206.33" cy="487.20" r="4.3"/><circle cx="208.07" cy="487.20" r="4.3"/><circle cx="209.80" cy="487.20" r="4.3"/><circle cx="211.53" cy="487.20" r="4.3"/><circle cx="213.27" cy="487.20" r="4.3"/><circle cx="215.00" cy="487.20" r="4.3"/><circle cx="216.73" cy="487.20" r="4.3"/><circle cx="218.47" cy="487.20" r="4.3"/><circle cx="220.20" cy="487.20" r="4.3"/><circle cx="221.93" cy="487.20" r="4.3"/><circle cx="223.67" cy="487.20" r="4.3"/><circle cx="225.40" cy="487.20" r="4.3"/><circle cx="227.13" cy="487.20" r="4.3"/><circle cx="228.87" cy="487.20" r="4.3"/><circle cx="230.60" cy="487.20" r="4.3"/><circle cx="232.33" cy="487.20" r="4.3"/><circle cx="234.07" cy="487.20" r="4.3"/><circle cx="235.80" cy="487.20" r="4.3"/><circle cx="237.53" cy="487.20" r="4.3"/><circle cx="239.27" cy="487.20" r="4.3"/><circle cx="241.00" cy="487.20" r="4.3"/><circle cx="242.73" cy="487.20" r="4.3"/><circle cx="244.47" cy="487.20" r="4.3"/><circle cx="246.20" cy="487.20" r="4.3"/><circle cx="247.93" cy="487.20" r="4.3"/><circle cx="249.67" cy="487.20" r="4.3"/><circle cx="251.40" cy="487.20" r="4.3"/><circle cx="253.13" cy="487.20" r="4.3"/><circle cx="254.87" cy="487.20" r="4.3"/><circle cx="180.33" cy="471.45" r="4.3"/><circle cx="182.07" cy="439.95" r="4.3"/><circle cx="183.80" cy="428.70" r="4.3"/><circle cx="185.53" cy="448.50" r="4.3"/><circle cx="187.27" cy="439.20" r="4.3"/><circle cx="189.00" cy="458.55" r="4.3"/><circle cx="190.73" cy="484.20" r="4.3"/><circle cx="258.60" cy="480.00" r="4.3"/><circle cx="260.00" cy="467.30" r="4.3"/><circle cx="260.90" cy="458.20" r="4.3"/><circle cx="262.50" cy="450.00" r="4.3"/><circle cx="264.00" cy="447.00" r="4.3"/><circle cx="265.50" cy="446.50" r="4.3"/><circle cx="267.00" cy="447.00" r="4.3"/><circle cx="268.50" cy="448.00" r="4.3"/><circle cx="270.00" cy="450.00" r="4.3"/><circle cx="271.30" cy="455.00" r="4.3"/><circle cx="272.30" cy="459.10" r="4.3"/><circle cx="274.50" cy="463.60" r="4.3"/><circle cx="276.40" cy="469.10" r="4.3"/><circle cx="277.30" cy="473.60" r="4.3"/><circle cx="278.60" cy="484.50" r="4.3"/><circle cx="280.00" cy="486.50" r="4.3"/><circle cx="281.40" cy="487.30" r="4.3"/><circle cx="283.20" cy="481.80" r="4.3"/><circle cx="284.50" cy="479.00" r="4.3"/><circle cx="285.90" cy="476.40" r="4.3"/><circle cx="287.20" cy="473.50" r="4.3"/><circle cx="288.60" cy="470.90" r="4.3"/><circle cx="290.00" cy="468.00" r="4.3"/><circle cx="291.40" cy="465.50" r="4.3"/><circle cx="292.70" cy="462.50" r="4.3"/><circle cx="294.10" cy="460.00" r="4.3"/><circle cx="295.20" cy="457.00" r="4.3"/><circle cx="296.40" cy="451.50" r="4.3"/><circle cx="297.50" cy="451.00" r="4.3"/><circle cx="298.60" cy="454.50" r="4.3"/><circle cx="300.90" cy="459.10" r="4.3"/><circle cx="302.30" cy="462.70" r="4.3"/><circle cx="303.20" cy="473.60" r="4.3"/><circle cx="305.00" cy="473.00" r="4.3"/><circle cx="306.80" cy="472.70" r="4.3"/><circle cx="308.50" cy="470.00" r="4.3"/><circle cx="310.50" cy="469.00" r="4.3"/><circle cx="312.50" cy="468.20" r="4.3"/><circle cx="314.50" cy="468.20" r="4.3"/><circle cx="316.50" cy="468.50" r="4.3"/><circle cx="318.50" cy="469.50" r="4.3"/><circle cx="320.50" cy="471.00" r="4.3"/><circle cx="322.30" cy="475.50" r="4.3"/><circle cx="324.10" cy="480.00" r="4.3"/><circle cx="325.00" cy="483.60" r="4.3"/></g>
<text transform="translate(161.00,508.90) rotate(-45)" text-anchor="end" font-size="19.3" fill="#262626" textLength="51.5" lengthAdjust="spacingAndGlyphs">04/04</text>
<text transform="translate(202.60,508.90) rotate(-45)" text-anchor="end" font-size="19.3" fill="#262626" textLength="51.5" lengthAdjust="spacingAndGlyphs">04/05</text>
<text transform="translate(244.20,508.90) rotate(-45)" text-anchor="end" font-size="19.3" fill="#262626" textLength="51.5" lengthAdjust="spacingAndGlyphs">04/06</text>
<text transform="translate(285.80,508.90) rotate(-45)" text-anchor="end" font-size="19.3" fill="#262626" textLength="51.5" lengthAdjust="spacingAndGlyphs">04/07</text>
<text transform="translate(327.40,508.90) rotate(-45)" text-anchor="end" font-size="19.3" fill="#262626" textLength="51.5" lengthAdjust="spacingAndGlyphs">04/08</text>
<text transform="translate(369.00,508.90) rotate(-45)" text-anchor="end" font-size="19.3" fill="#262626" textLength="51.5" lengthAdjust="spacingAndGlyphs">04/09</text>
<text x="225.50" y="576.2" font-size="21.3" fill="#262626" textLength="51.2" lengthAdjust="spacingAndGlyphs">Time</text>
<path d="M491.4 474.2v2M497.0 474.2v2M502.6 474.2v2M508.1 474.2v2M513.7 474.2v2M519.3 474.2v2M524.9 474.2v2M530.5 474.2v2M536.0 474.2v2M541.6 474.2v2M547.2 474.2v2M552.8 474.2v2M558.4 474.2v2M563.9 474.2v2M569.5 474.2v2M575.1 474.2v2M580.7 474.2v2M586.3 474.2v2M591.8 474.2v2M597.4 474.2v2M603.0 474.2v2M608.6 474.2v2M614.2 474.2v2M619.7 474.2v2M625.3 474.2v2M630.9 474.2v2M636.5 474.2v2M642.1 474.2v2M647.6 474.2v2M653.2 474.2v2M658.8 474.2v2M664.4 474.2v2M670.0 474.2v2M675.5 474.2v2M681.1 474.2v2M686.7 474.2v2M692.3 474.2v2M697.9 474.2v2M491.4 462.2v2M497.0 462.2v2M502.6 462.2v2M508.1 462.2v2M513.7 462.2v2M519.3 462.2v2M524.9 462.2v2M530.5 462.2v2M536.0 462.2v2M541.6 462.2v2M547.2 462.2v2M552.8 462.2v2M558.4 462.2v2M563.9 462.2v2M569.5 462.2v2M575.1 462.2v2M580.7 462.2v2M586.3 462.2v2M591.8 462.2v2M597.4 462.2v2M603.0 462.2v2M608.6 462.2v2M614.2 462.2v2M619.7 462.2v2M625.3 462.2v2M630.9 462.2v2M636.5 462.2v2M642.1 462.2v2M647.6 462.2v2M653.2 462.2v2M658.8 462.2v2M664.4 462.2v2M670.0 462.2v2M675.5 462.2v2M681.1 462.2v2M686.7 462.2v2M692.3 462.2v2M697.9 462.2v2M491.4 450.3v2M497.0 450.3v2M502.6 450.3v2M508.1 450.3v2M513.7 450.3v2M519.3 450.3v2M524.9 450.3v2M530.5 450.3v2M536.0 450.3v2M541.6 450.3v2M547.2 450.3v2M552.8 450.3v2M558.4 450.3v2M563.9 450.3v2M569.5 450.3v2M575.1 450.3v2M580.7 450.3v2M586.3 450.3v2M591.8 450.3v2M597.4 450.3v2M603.0 450.3v2M608.6 450.3v2M614.2 450.3v2M619.7 450.3v2M625.3 450.3v2M630.9 450.3v2M636.5 450.3v2M642.1 450.3v2M647.6 450.3v2M653.2 450.3v2M658.8 450.3v2M664.4 450.3v2M670.0 450.3v2M675.5 450.3v2M681.1 450.3v2M686.7 450.3v2M692.3 450.3v2M697.9 450.3v2M491.4 438.3v2M497.0 438.3v2M502.6 438.3v2M508.1 438.3v2M513.7 438.3v2M519.3 438.3v2M524.9 438.3v2M530.5 438.3v2M536.0 438.3v2M541.6 438.3v2M547.2 438.3v2M552.8 438.3v2M558.4 438.3v2M563.9 438.3v2M569.5 438.3v2M575.1 438.3v2M580.7 438.3v2M586.3 438.3v2M591.8 438.3v2M597.4 438.3v2M603.0 438.3v2M608.6 438.3v2M614.2 438.3v2M619.7 438.3v2M625.3 438.3v2M630.9 438.3v2M636.5 438.3v2M642.1 438.3v2M647.6 438.3v2M653.2 438.3v2M658.8 438.3v2M664.4 438.3v2M670.0 438.3v2M675.5 438.3v2M681.1 438.3v2M686.7 438.3v2M692.3 438.3v2M697.9 438.3v2" stroke="#bababa" stroke-width="1.3" fill="none"/>
<line x1="490.50" y1="487.20" x2="698.60" y2="487.20" stroke="#dfdfdf" stroke-width="1.5"/>
<line x1="490.50" y1="427.30" x2="698.60" y2="427.30" stroke="#dfdfdf" stroke-width="1.5"/>
<line x1="532.12" y1="427.30" x2="532.12" y2="487.20" stroke="#dfdfdf" stroke-width="1.5"/>
<line x1="573.74" y1="427.30" x2="573.74" y2="487.20" stroke="#dfdfdf" stroke-width="1.5"/>
<line x1="615.36" y1="427.30" x2="615.36" y2="487.20" stroke="#dfdfdf" stroke-width="1.5"/>
<line x1="656.98" y1="427.30" x2="656.98" y2="487.20" stroke="#dfdfdf" stroke-width="1.5"/>
<line x1="490.50" y1="487.20" x2="493.70" y2="487.20" stroke="#262626" stroke-width="1.5"/>
<line x1="698.60" y1="487.20" x2="695.40" y2="487.20" stroke="#262626" stroke-width="1.5"/>
<line x1="490.50" y1="427.30" x2="493.70" y2="427.30" stroke="#262626" stroke-width="1.5"/>
<line x1="698.60" y1="427.30" x2="695.40" y2="427.30" stroke="#262626" stroke-width="1.5"/>
<line x1="490.50" y1="487.20" x2="490.50" y2="484.00" stroke="#262626" stroke-width="1.5"/>
<line x1="490.50" y1="427.30" x2="490.50" y2="430.50" stroke="#262626" stroke-width="1.5"/>
<line x1="532.12" y1="487.20" x2="532.12" y2="484.00" stroke="#262626" stroke-width="1.5"/>
<line x1="532.12" y1="427.30" x2="532.12" y2="430.50" stroke="#262626" stroke-width="1.5"/>
<line x1="573.74" y1="487.20" x2="573.74" y2="484.00" stroke="#262626" stroke-width="1.5"/>
<line x1="573.74" y1="427.30" x2="573.74" y2="430.50" stroke="#262626" stroke-width="1.5"/>
<line x1="615.36" y1="487.20" x2="615.36" y2="484.00" stroke="#262626" stroke-width="1.5"/>
<line x1="615.36" y1="427.30" x2="615.36" y2="430.50" stroke="#262626" stroke-width="1.5"/>
<line x1="656.98" y1="487.20" x2="656.98" y2="484.00" stroke="#262626" stroke-width="1.5"/>
<line x1="656.98" y1="427.30" x2="656.98" y2="430.50" stroke="#262626" stroke-width="1.5"/>
<line x1="698.60" y1="487.20" x2="698.60" y2="484.00" stroke="#262626" stroke-width="1.5"/>
<line x1="698.60" y1="427.30" x2="698.60" y2="430.50" stroke="#262626" stroke-width="1.5"/>
<rect x="490.50" y="427.30" width="208.10" height="59.90" fill="none" stroke="#262626" stroke-width="1.9"/>
<text x="482.30" y="493.60" text-anchor="end" font-size="19.3" fill="#262626">0</text>
<text x="482.30" y="433.70" text-anchor="end" font-size="19.3" fill="#262626">500</text>
<text transform="translate(399.00,502.80) rotate(-90)" font-size="21.3" fill="#262626" textLength="42.20" lengthAdjust="spacingAndGlyphs">SUN</text>
<text transform="translate(407.00,458.80) rotate(-90)" font-size="16.5" fill="#262626" textLength="11.00" lengthAdjust="spacingAndGlyphs">F</text>
<text transform="translate(399.00,448.00) rotate(-90)" font-size="21.3" fill="#262626" textLength="38.00" lengthAdjust="spacingAndGlyphs">LUX</text>
<g fill="none" stroke="#0072BD" stroke-width="1.9"><circle cx="500.90" cy="484.09" r="4.3"/><circle cx="502.63" cy="478.06" r="4.3"/><circle cx="504.37" cy="473.34" r="4.3"/><circle cx="506.10" cy="469.81" r="4.3"/><circle cx="507.83" cy="467.02" r="4.3"/><circle cx="509.57" cy="464.37" r="4.3"/><circle cx="511.30" cy="462.41" r="4.3"/><circle cx="513.03" cy="461.44" r="4.3"/><circle cx="514.77" cy="460.47" r="4.3"/><circle cx="516.50" cy="460.68" r="4.3"/><circle cx="518.23" cy="461.98" r="4.3"/><circle cx="519.97" cy="465.68" r="4.3"/><circle cx="521.70" cy="469.72" r="4.3"/><circle cx="523.43" cy="473.97" r="4.3"/><circle cx="525.17" cy="478.27" r="4.3"/><circle cx="526.90" cy="482.60" r="4.3"/><circle cx="528.63" cy="486.23" r="4.3"/><circle cx="530.37" cy="487.00" r="4.3"/><circle cx="532.10" cy="487.00" r="4.3"/><circle cx="533.83" cy="487.00" r="4.3"/><circle cx="535.57" cy="487.00" r="4.3"/><circle cx="537.30" cy="487.00" r="4.3"/><circle cx="539.03" cy="487.00" r="4.3"/><circle cx="540.77" cy="485.50" r="4.3"/><circle cx="542.50" cy="481.00" r="4.3"/><circle cx="544.23" cy="473.00" r="4.3"/><circle cx="545.97" cy="464.50" r="4.3"/><circle cx="547.70" cy="456.00" r="4.3"/><circle cx="549.43" cy="454.27" r="4.3"/><circle cx="551.17" cy="452.96" r="4.3"/><circle cx="552.90" cy="451.65" r="4.3"/><circle cx="554.63" cy="453.85" r="4.3"/><circle cx="556.37" cy="456.97" r="4.3"/><circle cx="558.10" cy="461.30" r="4.3"/><circle cx="559.83" cy="465.41" r="4.3"/><circle cx="561.57" cy="469.40" r="4.3"/><circle cx="563.30" cy="473.31" r="4.3"/><circle cx="565.03" cy="476.82" r="4.3"/><circle cx="566.77" cy="480.32" r="4.3"/><circle cx="568.50" cy="483.89" r="4.3"/><circle cx="570.23" cy="487.00" r="4.3"/><circle cx="571.97" cy="487.00" r="4.3"/><circle cx="573.70" cy="487.00" r="4.3"/><circle cx="575.43" cy="487.00" r="4.3"/><circle cx="577.17" cy="487.00" r="4.3"/><circle cx="578.90" cy="487.00" r="4.3"/><circle cx="580.63" cy="487.00" r="4.3"/><circle cx="582.37" cy="485.00" r="4.3"/><circle cx="584.10" cy="481.41" r="4.3"/><circle cx="585.83" cy="475.76" r="4.3"/><circle cx="587.57" cy="466.51" r="4.3"/><circle cx="589.30" cy="459.22" r="4.3"/><circle cx="591.03" cy="455.97" r="4.3"/><circle cx="592.77" cy="454.23" r="4.3"/><circle cx="594.50" cy="452.50" r="4.3"/><circle cx="596.23" cy="453.77" r="4.3"/><circle cx="597.97" cy="459.13" r="4.3"/><circle cx="599.70" cy="463.42" r="4.3"/><circle cx="601.43" cy="466.93" r="4.3"/><circle cx="603.17" cy="470.44" r="4.3"/><circle cx="604.90" cy="473.95" r="4.3"/><circle cx="606.63" cy="477.46" r="4.3"/><circle cx="608.37" cy="480.89" r="4.3"/><circle cx="610.10" cy="484.31" r="4.3"/><circle cx="611.83" cy="487.00" r="4.3"/><circle cx="613.57" cy="487.00" r="4.3"/><circle cx="615.30" cy="487.00" r="4.3"/><circle cx="617.03" cy="487.00" r="4.3"/><circle cx="618.77" cy="487.00" r="4.3"/><circle cx="620.50" cy="487.00" r="4.3"/><circle cx="622.23" cy="484.14" r="4.3"/><circle cx="623.97" cy="484.00" r="4.3"/><circle cx="625.70" cy="479.00" r="4.3"/><circle cx="627.43" cy="464.30" r="4.3"/><circle cx="629.17" cy="449.40" r="4.3"/><circle cx="630.90" cy="440.00" r="4.3"/><circle cx="632.63" cy="435.00" r="4.3"/><circle cx="634.37" cy="432.00" r="4.3"/><circle cx="636.10" cy="433.08" r="4.3"/><circle cx="637.83" cy="436.48" r="4.3"/><circle cx="639.57" cy="440.61" r="4.3"/><circle cx="641.30" cy="445.10" r="4.3"/><circle cx="643.03" cy="450.30" r="4.3"/><circle cx="644.77" cy="455.10" r="4.3"/><circle cx="646.50" cy="459.49" r="4.3"/><circle cx="648.23" cy="468.66" r="4.3"/><circle cx="649.97" cy="476.83" r="4.3"/><circle cx="651.70" cy="487.00" r="4.3"/><circle cx="653.43" cy="487.00" r="4.3"/><circle cx="655.17" cy="487.00" r="4.3"/><circle cx="656.90" cy="487.00" r="4.3"/><circle cx="658.63" cy="487.00" r="4.3"/><circle cx="660.37" cy="487.00" r="4.3"/><circle cx="662.10" cy="486.86" r="4.3"/><circle cx="663.83" cy="484.40" r="4.3"/><circle cx="665.57" cy="482.15" r="4.3"/><circle cx="667.30" cy="480.48" r="4.3"/></g>
<text transform="translate(504.10,508.90) rotate(-45)" text-anchor="end" font-size="19.3" fill="#262626" textLength="51.5" lengthAdjust="spacingAndGlyphs">04/04</text>
<text transform="translate(545.72,508.90) rotate(-45)" text-anchor="end" font-size="19.3" fill="#262626" textLength="51.5" lengthAdjust="spacingAndGlyphs">04/05</text>
<text transform="translate(587.34,508.90) rotate(-45)" text-anchor="end" font-size="19.3" fill="#262626" textLength="51.5" lengthAdjust="spacingAndGlyphs">04/06</text>
<text transform="translate(628.96,508.90) rotate(-45)" text-anchor="end" font-size="19.3" fill="#262626" textLength="51.5" lengthAdjust="spacingAndGlyphs">04/07</text>
<text transform="translate(670.58,508.90) rotate(-45)" text-anchor="end" font-size="19.3" fill="#262626" textLength="51.5" lengthAdjust="spacingAndGlyphs">04/08</text>
<text transform="translate(712.20,508.90) rotate(-45)" text-anchor="end" font-size="19.3" fill="#262626" textLength="51.5" lengthAdjust="spacingAndGlyphs">04/09</text>
<text x="568.65" y="576.2" font-size="21.3" fill="#262626" textLength="51.2" lengthAdjust="spacingAndGlyphs">Time</text>
<text x="186.6" y="32.3" font-size="21.3" font-weight="bold" fill="#000" textLength="129" lengthAdjust="spacingAndGlyphs">Figure 3 low</text>
</svg>
</body></html>
